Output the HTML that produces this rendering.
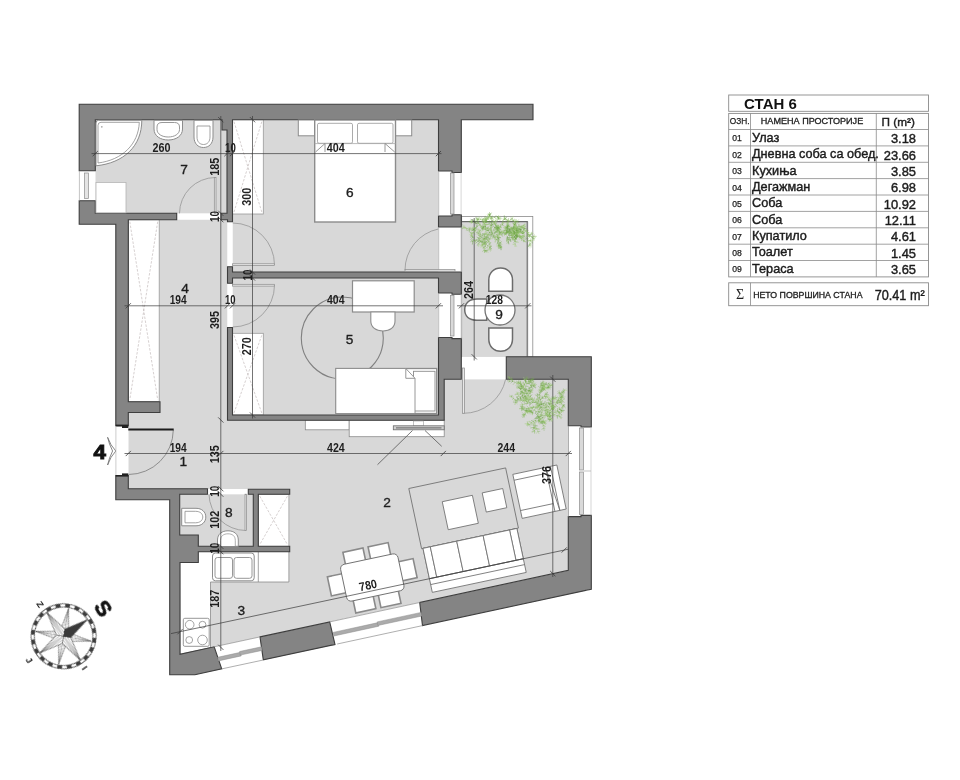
<!DOCTYPE html>
<html><head><meta charset="utf-8"><title>СТАН 6</title>
<style>
html,body{margin:0;padding:0;background:#fff;}
body{width:960px;height:780px;overflow:hidden;font-family:"Liberation Sans",sans-serif;}
svg{display:block;}
</style></head><body>
<svg width="960" height="780" viewBox="0 0 960 780">
<rect width="960" height="780" fill="#fff"/>
<g opacity="0.999">
<g id="floors">
<rect x="95.3" y="119.7" width="131.7" height="100.0" fill="#d8d8d8" stroke="none" stroke-width="0" />
<rect x="232.5" y="119.7" width="206.0" height="152.3" fill="#d8d8d8" stroke="none" stroke-width="0" />
<rect x="232.5" y="278.0" width="206.0" height="137.0" fill="#d8d8d8" stroke="none" stroke-width="0" />
<rect x="461.3" y="216.5" width="71.5" height="140.5" fill="#fff" stroke="#8a8a8a" stroke-width="0.8" />
<rect x="461.5" y="221.6" width="66.9" height="135.2" fill="#d8d8d8" stroke="none" stroke-width="0" />
<line x1="461.5" y1="221.6" x2="527.8" y2="221.6" stroke="#6a6a6a" stroke-width="1.1" />
<line x1="527.2" y1="221.6" x2="527.2" y2="356.8" stroke="#6a6a6a" stroke-width="1.1" />
<line x1="461.6" y1="216.5" x2="461.6" y2="357.0" stroke="#8a8a8a" stroke-width="0.8" />
<polygon points="128.3,219.7 227.5,219.7 227.5,420.0 444.2,420.0 444.2,379.2 568.3,379.2 568.3,570.4 180.0,654.2 180.0,551.0 289.0,551.0 289.0,489.0 128.3,489.0" fill="#d8d8d8" stroke="none" stroke-width="0" />
<rect x="179.7" y="494.2" width="73.6" height="52.3" fill="#d8d8d8" stroke="none" stroke-width="0" />
</g>
<g id="openings">
<rect x="79.2" y="170.8" width="16.1" height="30.0" fill="#fff" stroke="none" stroke-width="0" />
<rect x="176.7" y="213.3" width="45.3" height="6.4" fill="#fff" stroke="none" stroke-width="0" />
<rect x="227.5" y="221.7" width="5.0" height="45.0" fill="#fff" stroke="none" stroke-width="0" />
<rect x="227.5" y="283.3" width="5.0" height="44.2" fill="#fff" stroke="none" stroke-width="0" />
<rect x="438.5" y="171.0" width="22.8" height="45.0" fill="#fff" stroke="none" stroke-width="0" />
<rect x="438.5" y="227.0" width="22.8" height="45.0" fill="#fff" stroke="none" stroke-width="0" />
<rect x="438.5" y="294.0" width="22.8" height="43.5" fill="#fff" stroke="none" stroke-width="0" />
<rect x="462.0" y="356.9" width="44.3" height="22.3" fill="#fff" stroke="none" stroke-width="0" />
<rect x="568.3" y="425.8" width="23.0" height="90.2" fill="#fff" stroke="none" stroke-width="0" />
<rect x="207.5" y="489.2" width="40.8" height="5.0" fill="#fff" stroke="none" stroke-width="0" />
<rect x="115.8" y="425.8" width="12.5" height="49.7" fill="#fff" stroke="none" stroke-width="0" />
<polygon points="214.2,646.8 260.0,636.9 263.3,659.9 221.7,668.9" fill="#fff" stroke="none" stroke-width="0" />
<polygon points="329.7,621.9 419.7,602.5 422.5,625.6 335.0,644.5" fill="#fff" stroke="none" stroke-width="0" />
</g>
<g id="builtins">
<rect x="128.3" y="219.7" width="30.9" height="182.0" fill="#fff" stroke="#9a9a9a" stroke-width="0.8" />
<line x1="129.8" y1="221.7" x2="157.7" y2="399.7" stroke="#c4bcbc" stroke-width="0.7" stroke-dasharray="2.5 1.5"/>
<line x1="157.7" y1="221.7" x2="129.8" y2="399.7" stroke="#c4bcbc" stroke-width="0.7" stroke-dasharray="2.5 1.5"/>
<rect x="232.5" y="119.7" width="30.8" height="94.3" fill="#fff" stroke="#9a9a9a" stroke-width="0.8" />
<line x1="234.0" y1="121.7" x2="261.8" y2="212.0" stroke="#c4bcbc" stroke-width="0.7" stroke-dasharray="2.5 1.5"/>
<line x1="261.8" y1="121.7" x2="234.0" y2="212.0" stroke="#c4bcbc" stroke-width="0.7" stroke-dasharray="2.5 1.5"/>
<rect x="232.5" y="333.3" width="30.8" height="81.7" fill="#fff" stroke="#9a9a9a" stroke-width="0.8" />
<line x1="234.0" y1="335.3" x2="261.8" y2="413.0" stroke="#c4bcbc" stroke-width="0.7" stroke-dasharray="2.5 1.5"/>
<line x1="261.8" y1="335.3" x2="234.0" y2="413.0" stroke="#c4bcbc" stroke-width="0.7" stroke-dasharray="2.5 1.5"/>
<rect x="258.3" y="494.2" width="30.6" height="52.3" fill="#fff" stroke="#9a9a9a" stroke-width="0.8" />
<line x1="259.8" y1="496.2" x2="287.4" y2="544.5" stroke="#c4bcbc" stroke-width="0.7" stroke-dasharray="2.5 1.5"/>
<line x1="287.4" y1="496.2" x2="259.8" y2="544.5" stroke="#c4bcbc" stroke-width="0.7" stroke-dasharray="2.5 1.5"/>
<polygon points="179.7,551.5 288.9,551.5 288.9,582.0 210.5,582.0 210.5,647.6 180.0,654.2" fill="#fff" stroke="#8c8c8c" stroke-width="0.8" />
<line x1="258.3" y1="551.5" x2="258.3" y2="582.0" stroke="#8c8c8c" stroke-width="0.8" />
<rect x="305.3" y="420.0" width="43.9" height="9.8" fill="#fff" stroke="#8c8c8c" stroke-width="0.8" />
<rect x="349.2" y="420.0" width="95.0" height="16.7" fill="#fff" stroke="#8c8c8c" stroke-width="0.8" />
</g>
<g id="walls" fill="#848484" stroke="#3e3e3e" stroke-width="1.1" stroke-linejoin="miter">
<polygon points="79.2,104.2 533.0,104.2 533.0,119.7 461.3,119.7 461.3,172.5 452.0,172.5 452.0,171.0 438.5,171.0 438.5,119.7 232.5,119.7 232.5,221.7 227.5,221.7 227.5,219.7 221.0,219.7 221.0,213.3 227.0,213.3 227.0,130.0 222.0,130.0 222.0,119.7 95.3,119.7 95.3,170.8 79.2,170.8"/>
<polygon points="79.2,200.8 95.3,200.8 95.3,213.3 176.7,213.3 176.7,219.7 128.3,219.7 128.3,401.7 160.0,401.7 160.0,412.5 128.3,412.5 128.3,425.8 115.8,425.8 115.8,224.2 79.2,224.2"/>
<polygon points="227.5,266.7 232.5,266.7 232.5,272.0 461.3,272.0 461.3,294.2 452.0,294.2 452.0,293.0 438.5,293.0 438.5,278.0 232.5,278.0 232.5,283.3 227.5,283.3"/>
<polygon points="438.5,216.0 452.0,216.0 452.0,214.8 461.3,214.8 461.3,227.0 438.5,227.0"/>
<polygon points="227.5,327.5 232.5,327.5 232.5,415.0 438.5,415.0 438.5,337.5 452.0,337.5 452.0,338.6 461.3,338.6 461.3,379.2 444.2,379.2 444.2,420.3 227.5,420.3"/>
<polygon points="506.3,356.7 591.3,356.7 591.3,427.0 581.0,427.0 581.0,425.8 568.3,425.8 568.3,379.2 506.3,379.2"/>
<polygon points="568.3,516.6 581.0,516.6 581.0,515.4 591.3,515.4 591.3,589.2 422.5,625.6 419.7,602.5 568.3,570.4"/>
<polygon points="260.0,636.9 329.7,621.9 335.0,644.5 263.3,659.9"/>
<polygon points="115.8,475.5 128.3,475.5 128.3,488.7 207.5,488.7 207.5,494.2 179.7,494.2 179.7,535.0 198.3,535.0 198.3,546.3 253.3,546.3 253.3,494.2 248.3,494.2 248.3,489.2 289.7,489.2 289.7,494.2 258.3,494.2 258.3,546.3 289.7,546.3 289.7,551.7 198.3,551.7 198.3,562.5 180.0,562.5 180.0,654.2 214.2,646.8 221.7,668.9 194.9,674.7 169.7,674.7 169.7,499.7 115.8,499.7"/>
</g>
<rect x="115.8" y="424.6" width="12.5" height="1.8" fill="#222" stroke="none" stroke-width="0" />
<rect x="122.0" y="426.0" width="6.3" height="2.0" fill="#222" stroke="none" stroke-width="0" />
<rect x="115.8" y="475.0" width="12.5" height="1.6" fill="#222" stroke="none" stroke-width="0" />
<rect x="122.0" y="473.4" width="6.3" height="2.0" fill="#222" stroke="none" stroke-width="0" />
<g id="windetail">
<rect x="84.5" y="173.0" width="4.0" height="25.5" fill="#e4e4e4" stroke="#8c8c8c" stroke-width="0.7" />
<line x1="79.4" y1="170.8" x2="79.4" y2="200.8" stroke="#9a9a9a" stroke-width="0.6" />
<rect x="450.5" y="173.0" width="3.5" height="41.0" fill="#d9d9d9" stroke="#8c8c8c" stroke-width="0.7" />
<line x1="461.1" y1="172.5" x2="461.1" y2="215.0" stroke="#bbb" stroke-width="0.6" />
<line x1="438.7" y1="171.0" x2="438.7" y2="216.0" stroke="#9a9a9a" stroke-width="0.6" />
<rect x="450.5" y="295.5" width="3.5" height="40.5" fill="#d9d9d9" stroke="#8c8c8c" stroke-width="0.7" />
<line x1="461.1" y1="294.2" x2="461.1" y2="338.6" stroke="#bbb" stroke-width="0.6" />
<line x1="438.7" y1="293.0" x2="438.7" y2="337.5" stroke="#9a9a9a" stroke-width="0.6" />
<line x1="438.7" y1="227.0" x2="438.7" y2="272.0" stroke="#9a9a9a" stroke-width="0.6" />
<line x1="461.1" y1="227.0" x2="461.1" y2="272.0" stroke="#9a9a9a" stroke-width="0.6" />
<rect x="579.5" y="428.0" width="4.0" height="42.0" fill="#d9d9d9" stroke="#8c8c8c" stroke-width="0.7" />
<rect x="579.5" y="472.0" width="4.0" height="42.5" fill="#d9d9d9" stroke="#8c8c8c" stroke-width="0.7" />
<line x1="583.5" y1="471.0" x2="591.0" y2="471.0" stroke="#aaa" stroke-width="0.7" />
<line x1="591.0" y1="427.0" x2="591.0" y2="515.4" stroke="#bbb" stroke-width="0.6" />
<line x1="568.5" y1="425.8" x2="568.5" y2="516.6" stroke="#8c8c8c" stroke-width="0.7" />
<polygon points="217.7,657.3 240.6,652.3 241.2,655.9 218.3,660.9" fill="#ababab" stroke="#8a8a8a" stroke-width="0.5" />
<polygon points="239.6,651.5 261.5,646.8 262.1,650.4 240.2,655.1" fill="#ababab" stroke="#8a8a8a" stroke-width="0.5" />
<line x1="221.7" y1="668.9" x2="262.8" y2="660.1" stroke="#8c8c8c" stroke-width="0.7" />
<line x1="214.2" y1="646.8" x2="260.0" y2="636.9" stroke="#8c8c8c" stroke-width="0.7" />
<polygon points="333.2,632.4 378.2,622.6 378.8,626.2 333.8,636.0" fill="#ababab" stroke="#8a8a8a" stroke-width="0.5" />
<polygon points="377.2,621.9 421.2,612.4 421.8,616.0 377.8,625.5" fill="#ababab" stroke="#8a8a8a" stroke-width="0.5" />
<line x1="337.2" y1="644.0" x2="422.5" y2="625.6" stroke="#8c8c8c" stroke-width="0.7" />
<line x1="329.7" y1="621.9" x2="419.7" y2="602.5" stroke="#8c8c8c" stroke-width="0.7" />
</g>
<circle cx="342.3" cy="338" r="41" fill="none" stroke="#808080" stroke-width="1.1"/>
<g id="furn" fill="#fff" stroke="#8c8c8c" stroke-width="1">
<path d="M96,123 Q96,120.3 98.7,120.3 H141.8 C141.8,146 124,163 96,165.8 Z" fill="#fff" stroke="#8c8c8c" stroke-width="1" />
<path d="M98,125.3 Q98,122.3 101,122.3 H139.3 C138.5,144 122.5,160 98,163 Z" fill="#fff" stroke="#8c8c8c" stroke-width="0.8" />
<circle cx="101.8" cy="126.8" r="0.9" fill="#aaa" stroke="none"/>
<path d="M154,120.3 H182.5 V129 C182.5,136 176,140 168.2,140 C160.5,140 154,136 154,129 Z" fill="#fff" stroke="#8c8c8c" stroke-width="1" />
<path d="M157,127 Q157,122.5 162,122.5 H174.5 Q179.5,122.5 179.5,127 V129.5 C179.5,134 174.5,137 168.2,137 C162,137 157,134 157,129.5 Z" fill="#fff" stroke="#8c8c8c" stroke-width="0.9" />
<path d="M194,120.3 H213 V137 C213,143.5 209,147.5 203.5,147.5 C198,147.5 194,143.5 194,137 Z" fill="#fff" stroke="#8c8c8c" stroke-width="1" />
<path d="M197,126 H210 V137 C210,141.5 207.5,144.5 203.5,144.5 C199.5,144.5 197,141.5 197,137 Z" fill="#fff" stroke="#8c8c8c" stroke-width="0.8" />
<rect x="96.0" y="182.5" width="30.0" height="30.3" fill="#fff" stroke="#b5b5b5" stroke-width="0.8" />
<rect x="298.3" y="120.0" width="16.4" height="15.8" fill="#fff" stroke="#8c8c8c" stroke-width="1" />
<rect x="395.5" y="120.0" width="16.2" height="15.8" fill="#fff" stroke="#8c8c8c" stroke-width="1" />
<rect x="314.7" y="120.0" width="80.8" height="102.0" fill="#fff" stroke="#8c8c8c" stroke-width="1.4" />
<rect x="317.5" y="123.3" width="35.0" height="20.0" fill="#fff" stroke="#a2a2a2" stroke-width="0.9" rx="1.5"/>
<rect x="357.5" y="123.3" width="35.5" height="20.0" fill="#fff" stroke="#a2a2a2" stroke-width="0.9" rx="1.5"/>
<line x1="314.7" y1="143.6" x2="395.5" y2="143.6" stroke="#a8a8a8" stroke-width="0.8" />
<path d="M315.5,152 L325,143.5 V152" fill="none" stroke="#8c8c8c" stroke-width="0.9" />
<path d="M394.7,152 L385,143.5 V152" fill="none" stroke="#8c8c8c" stroke-width="0.9" />
<rect x="352.5" y="280.8" width="61.7" height="31.2" fill="#fff" stroke="#8c8c8c" stroke-width="1.2" />
<path d="M370.8,312 V321 C370.8,327.5 376,331 383,331 C390,331 395,327.5 395,321 V312 Z" fill="#fff" stroke="#8c8c8c" stroke-width="1.1" />
<rect x="335.8" y="368.5" width="100.9" height="45.0" fill="#fff" stroke="#8c8c8c" stroke-width="1.3" />
<rect x="413.5" y="371.3" width="21.5" height="39.7" fill="#fff" stroke="#8c8c8c" stroke-width="0.9" />
<path d="M335.8,368.5 H405.8 L415,378.3 V413.5 H335.8 Z" fill="#fff" stroke="#8c8c8c" stroke-width="0.9" />
<path d="M405.8,368.8 V378.3 H415" fill="none" stroke="#8c8c8c" stroke-width="0.9" />
<path d="M488.8,291.3 V280 C488.8,272.5 494,268 500.6,268 C507.2,268 512.5,272.5 512.5,280 V291.3 Z" fill="#fff" stroke="#6c6c6c" stroke-width="1.5" />
<path d="M486.7,299 H477 C469,299 464.7,303.5 464.7,309.6 C464.7,316 469,320.3 477,320.3 H486.7 Z" fill="#fff" stroke="#6c6c6c" stroke-width="1.5" />
<path d="M488.8,328 V339 C488.8,346.5 494,351.3 500.6,351.3 C507.2,351.3 512.5,346.5 512.5,339 V328 Z" fill="#fff" stroke="#6c6c6c" stroke-width="1.5" />
<circle cx="500" cy="310" r="15" stroke="#747474" stroke-width="1.3"/>
<path d="M181.7,508.3 H196 C202,508.3 205.8,512 205.8,517 C205.8,522 202,525.8 196,525.8 H181.7 Z" fill="#fff" stroke="#8c8c8c" stroke-width="1" />
<path d="M185,511.3 H195.5 C200,511.3 202.8,513.7 202.8,517 C202.8,520.3 200,522.8 195.5,522.8 H185 Z" fill="#fff" stroke="#8c8c8c" stroke-width="0.8" />
<path d="M217.5,546.3 V540 C217.5,534 222,530.8 228,530.8 C234,530.8 238.3,534 238.3,540 V546.3 Z" fill="#fff" stroke="#8c8c8c" stroke-width="1" />
<path d="M220.5,546 V540.5 C220.5,536 223.5,533.8 228,533.8 C232.5,533.8 235.3,536 235.3,540.5 V546" fill="#fff" stroke="#8c8c8c" stroke-width="0.7" />
<rect x="212.5" y="553.0" width="41.7" height="27.8" fill="#fff" stroke="#8c8c8c" stroke-width="1" rx="3"/>
<rect x="215.0" y="557.5" width="17.5" height="20.8" fill="#fff" stroke="#8c8c8c" stroke-width="0.9" rx="2.5"/>
<rect x="234.0" y="557.5" width="18.0" height="20.8" fill="#fff" stroke="#8c8c8c" stroke-width="0.9" rx="2.5"/>
<rect x="183.3" y="618.3" width="25.9" height="28.0" fill="#fff" stroke="#8c8c8c" stroke-width="0.9" rx="1.5"/>
<circle cx="189.7" cy="624.7" r="4.3" stroke-width="0.8"/><circle cx="202.5" cy="624.7" r="3.4" stroke-width="0.8"/><circle cx="189.2" cy="640" r="3.4" stroke-width="0.8"/><circle cx="202.5" cy="640" r="4.8" stroke-width="0.8"/>
</g>
<rect x="413.5" y="421.0" width="10.0" height="5.0" fill="#fff" stroke="#9a9a9a" stroke-width="0.6" />
<rect x="393.3" y="425.8" width="50.9" height="4.0" fill="#cfcfcf" stroke="#6a6a6a" stroke-width="0.8" />
<line x1="396.0" y1="427.8" x2="441.5" y2="427.8" stroke="#777" stroke-width="1.2" />
<line x1="412.5" y1="430.5" x2="377.5" y2="464.7" stroke="#555" stroke-width="0.8" />
<line x1="425.0" y1="430.5" x2="441.7" y2="446.3" stroke="#555" stroke-width="0.8" />
<g transform="translate(408.8,488.5) rotate(-12.0)"><rect x="0" y="0" width="99" height="61.5" fill="none" stroke="#6e6e6e" stroke-width="0.8"/></g>
<g transform="translate(460.3,512.5) rotate(-12.0)"><rect x="-15.4" y="-14.3" width="30.8" height="28.6" fill="#fff" stroke="#6e6e6e" stroke-width="0.8"/></g>
<g transform="translate(494.5,500.3) rotate(-12.0)"><rect x="-10.5" y="-9.8" width="21" height="19.6" fill="#fff" stroke="#6e6e6e" stroke-width="0.8"/></g>
<g transform="translate(474.6,560.4) rotate(-12.0)" fill="#fff" stroke="#6e6e6e" stroke-width="0.8"><rect x="-48" y="-22.5" width="96" height="45"/><rect x="-48" y="-22.5" width="7.5" height="31"/><rect x="40.5" y="-22.5" width="7.5" height="31"/><rect x="-40.5" y="-22.5" width="27" height="31"/><rect x="-13.5" y="-22.5" width="27" height="31"/><rect x="13.5" y="-22.5" width="27" height="31"/><line x1="-48" y1="8.5" x2="48" y2="8.5"/><line x1="-48" y1="14.5" x2="48" y2="14.5"/></g>
<g transform="translate(539.5,491.7) rotate(-12.0)" fill="#fff" stroke="#6e6e6e" stroke-width="0.8"><rect x="-22.5" y="-22.5" width="45" height="45"/><line x1="-22.5" y1="-16.5" x2="11" y2="-16.5"/><line x1="-22.5" y1="14.5" x2="11" y2="14.5"/><line x1="11" y1="-22.5" x2="11" y2="22.5"/><line x1="16" y1="-22.5" x2="16" y2="22.5"/><line x1="11" y1="-22.5" x2="16" y2="22.5"/></g>
<g transform="translate(372.3,577.5) rotate(-12.0)" fill="#fff" stroke="#6e6e6e"><g stroke-width="1.6" stroke="#8a8a8a"><rect x="-23.5" y="-30.8" width="20.5" height="16"/><rect x="2.2" y="-30.8" width="20.5" height="16"/><rect x="-23.5" y="14" width="20.5" height="17.3"/><rect x="2.2" y="14" width="20.5" height="17.3"/><rect x="-43.8" y="-10" width="18" height="19.5"/><rect x="25.8" y="-10" width="18" height="19.5"/></g><rect x="-29.3" y="-18.8" width="58.6" height="37.6" rx="4.5" stroke-width="0.9"/></g>
<g id="doors" fill="none" stroke="#8a8a8a" stroke-width="0.8">
<rect x="214.3" y="177.5" width="1.7" height="35.8" fill="#e8e8e8" stroke="#8a8a8a" stroke-width="0.7" />
<path d="M215.2,177.5 A36,36 0 0 0 179.5,213.3" fill="none" stroke="#959595" stroke-width="0.8" />
<rect x="232.5" y="263.8" width="41.8" height="1.8" fill="#e8e8e8" stroke="#8a8a8a" stroke-width="0.7" />
<path d="M232.8,223 A42,42 0 0 1 274.5,264.8" fill="none" stroke="#959595" stroke-width="0.8" />
<rect x="232.5" y="284.3" width="41.8" height="1.8" fill="#e8e8e8" stroke="#8a8a8a" stroke-width="0.7" />
<path d="M274.5,285.2 A42,42 0 0 1 232.8,327" fill="none" stroke="#959595" stroke-width="0.8" />
<rect x="405.0" y="269.6" width="50.0" height="1.6" fill="#e8e8e8" stroke="#8a8a8a" stroke-width="0.7" />
<path d="M405,270 A42,42 0 0 1 438.3,229" fill="none" stroke="#959595" stroke-width="0.8" />
<rect x="462.6" y="368.0" width="1.8" height="45.3" fill="#e8e8e8" stroke="#8a8a8a" stroke-width="0.7" />
<path d="M463.5,413.3 A43,43 0 0 0 505.6,379.4" fill="none" stroke="#959595" stroke-width="0.8" />
<rect x="245.0" y="494.2" width="1.6" height="36.3" fill="#e8e8e8" stroke="#8a8a8a" stroke-width="0.7" />
<path d="M245.8,530.5 A37,37 0 0 1 209,494.4" fill="none" stroke="#959595" stroke-width="0.8" />
<path d="M173.3,430 A45,45 0 0 1 128.5,474.5" fill="none" stroke="#7a7a7a" stroke-width="0.8" />
<rect x="128.3" y="428.5" width="45.4" height="2.0" fill="#1c1c1c" stroke="none" stroke-width="0" />
</g>
<path d="M107.6,437.3 Q110.5,445.5 115.8,451 Q110.5,456.5 107.6,465 Q109,458 112.6,451 Q109,444 107.6,437.3 Z" fill="#fff" stroke="#6a6a6a" stroke-width="0.8" />
<line x1="115.9" y1="426.0" x2="115.9" y2="475.0" stroke="#aaa" stroke-width="0.6" />
<g id="dims" stroke="#3a3a3a" stroke-width="0.7" fill="none">
<line x1="91.5" y1="153.6" x2="441.5" y2="153.6" stroke="#3a3a3a" stroke-width="0.7" />
<line x1="92.7" y1="156.2" x2="97.9" y2="151.0" stroke="#3a3a3a" stroke-width="0.8" />
<line x1="224.4" y1="156.2" x2="229.6" y2="151.0" stroke="#3a3a3a" stroke-width="0.8" />
<line x1="229.9" y1="156.2" x2="235.1" y2="151.0" stroke="#3a3a3a" stroke-width="0.8" />
<line x1="435.8" y1="156.2" x2="441.0" y2="151.0" stroke="#3a3a3a" stroke-width="0.8" />
<line x1="124.5" y1="305.8" x2="443.0" y2="305.8" stroke="#3a3a3a" stroke-width="0.7" />
<line x1="125.7" y1="308.4" x2="130.9" y2="303.2" stroke="#3a3a3a" stroke-width="0.8" />
<line x1="224.9" y1="308.4" x2="230.1" y2="303.2" stroke="#3a3a3a" stroke-width="0.8" />
<line x1="229.9" y1="308.4" x2="235.1" y2="303.2" stroke="#3a3a3a" stroke-width="0.8" />
<line x1="435.8" y1="308.4" x2="441.0" y2="303.2" stroke="#3a3a3a" stroke-width="0.8" />
<line x1="457.0" y1="305.8" x2="531.5" y2="305.8" stroke="#3a3a3a" stroke-width="0.7" />
<line x1="458.9" y1="308.4" x2="464.1" y2="303.2" stroke="#3a3a3a" stroke-width="0.8" />
<line x1="525.2" y1="308.4" x2="530.4" y2="303.2" stroke="#3a3a3a" stroke-width="0.8" />
<line x1="124.5" y1="453.5" x2="572.0" y2="453.5" stroke="#3a3a3a" stroke-width="0.7" />
<line x1="125.7" y1="456.1" x2="130.9" y2="450.9" stroke="#3a3a3a" stroke-width="0.8" />
<line x1="218.2" y1="456.1" x2="223.4" y2="450.9" stroke="#3a3a3a" stroke-width="0.8" />
<line x1="440.7" y1="456.1" x2="445.9" y2="450.9" stroke="#3a3a3a" stroke-width="0.8" />
<line x1="565.7" y1="456.1" x2="570.9" y2="450.9" stroke="#3a3a3a" stroke-width="0.8" />
<line x1="220.8" y1="116.0" x2="220.8" y2="651.0" stroke="#3a3a3a" stroke-width="0.7" />
<line x1="218.2" y1="117.1" x2="223.4" y2="122.3" stroke="#3a3a3a" stroke-width="0.8" />
<line x1="218.2" y1="210.7" x2="223.4" y2="215.9" stroke="#3a3a3a" stroke-width="0.8" />
<line x1="218.2" y1="217.1" x2="223.4" y2="222.3" stroke="#3a3a3a" stroke-width="0.8" />
<line x1="218.2" y1="417.4" x2="223.4" y2="422.6" stroke="#3a3a3a" stroke-width="0.8" />
<line x1="218.2" y1="486.1" x2="223.4" y2="491.3" stroke="#3a3a3a" stroke-width="0.8" />
<line x1="218.2" y1="491.6" x2="223.4" y2="496.8" stroke="#3a3a3a" stroke-width="0.8" />
<line x1="218.2" y1="543.7" x2="223.4" y2="548.9" stroke="#3a3a3a" stroke-width="0.8" />
<line x1="218.2" y1="549.1" x2="223.4" y2="554.3" stroke="#3a3a3a" stroke-width="0.8" />
<line x1="218.2" y1="644.7" x2="223.4" y2="649.9" stroke="#3a3a3a" stroke-width="0.8" />
<line x1="252.5" y1="116.0" x2="252.5" y2="418.5" stroke="#3a3a3a" stroke-width="0.7" />
<line x1="249.9" y1="117.1" x2="255.1" y2="122.3" stroke="#3a3a3a" stroke-width="0.8" />
<line x1="249.9" y1="269.4" x2="255.1" y2="274.6" stroke="#3a3a3a" stroke-width="0.8" />
<line x1="249.9" y1="275.4" x2="255.1" y2="280.6" stroke="#3a3a3a" stroke-width="0.8" />
<line x1="249.9" y1="412.4" x2="255.1" y2="417.6" stroke="#3a3a3a" stroke-width="0.8" />
<line x1="474.2" y1="218.0" x2="474.2" y2="360.5" stroke="#3a3a3a" stroke-width="0.7" />
<line x1="471.6" y1="219.1" x2="476.8" y2="224.3" stroke="#3a3a3a" stroke-width="0.8" />
<line x1="471.6" y1="354.2" x2="476.8" y2="359.4" stroke="#3a3a3a" stroke-width="0.8" />
<line x1="552.8" y1="375.0" x2="552.8" y2="577.0" stroke="#3a3a3a" stroke-width="0.7" />
<line x1="550.2" y1="376.6" x2="555.4" y2="381.8" stroke="#3a3a3a" stroke-width="0.8" />
<line x1="550.2" y1="571.0" x2="555.4" y2="576.2" stroke="#3a3a3a" stroke-width="0.8" />
<line x1="171.0" y1="633.6" x2="568.3" y2="549.2" stroke="#3a3a3a" stroke-width="0.7" />
<line x1="177.4" y1="634.3" x2="182.6" y2="629.1" stroke="#3a3a3a" stroke-width="0.8" />
<line x1="561.6" y1="552.6" x2="566.8" y2="547.4" stroke="#3a3a3a" stroke-width="0.8" />
</g>
<text x="152.5" y="151.7" font-family="Liberation Sans, sans-serif" font-size="12.2" font-weight="bold" fill="#1e1e1e" textLength="18.0" lengthAdjust="spacingAndGlyphs">260</text>
<text x="225.0" y="151.7" font-family="Liberation Sans, sans-serif" font-size="12.2" font-weight="bold" fill="#1e1e1e" textLength="10.8" lengthAdjust="spacingAndGlyphs">10</text>
<text x="326.7" y="151.7" font-family="Liberation Sans, sans-serif" font-size="12.2" font-weight="bold" fill="#1e1e1e" textLength="18.0" lengthAdjust="spacingAndGlyphs">404</text>
<text x="169.7" y="304.0" font-family="Liberation Sans, sans-serif" font-size="12.2" font-weight="bold" fill="#1e1e1e" textLength="17.0" lengthAdjust="spacingAndGlyphs">194</text>
<text x="225.0" y="304.0" font-family="Liberation Sans, sans-serif" font-size="12.2" font-weight="bold" fill="#1e1e1e" textLength="10.6" lengthAdjust="spacingAndGlyphs">10</text>
<text x="327.0" y="304.0" font-family="Liberation Sans, sans-serif" font-size="12.2" font-weight="bold" fill="#1e1e1e" textLength="17.5" lengthAdjust="spacingAndGlyphs">404</text>
<text x="485.8" y="304.0" font-family="Liberation Sans, sans-serif" font-size="12.2" font-weight="bold" fill="#1e1e1e" textLength="17.2" lengthAdjust="spacingAndGlyphs">128</text>
<text x="169.7" y="451.7" font-family="Liberation Sans, sans-serif" font-size="12.2" font-weight="bold" fill="#1e1e1e" textLength="17.0" lengthAdjust="spacingAndGlyphs">194</text>
<text x="327.0" y="451.7" font-family="Liberation Sans, sans-serif" font-size="12.2" font-weight="bold" fill="#1e1e1e" textLength="17.7" lengthAdjust="spacingAndGlyphs">424</text>
<text x="497.5" y="452.0" font-family="Liberation Sans, sans-serif" font-size="12.2" font-weight="bold" fill="#1e1e1e" textLength="17.5" lengthAdjust="spacingAndGlyphs">244</text>
<text transform="translate(219.2,175.7) rotate(-90)" font-family="Liberation Sans, sans-serif" font-size="12.2" font-weight="bold" fill="#1e1e1e" textLength="18.0" lengthAdjust="spacingAndGlyphs">185</text>
<text transform="translate(250.9,205.7) rotate(-90)" font-family="Liberation Sans, sans-serif" font-size="12.2" font-weight="bold" fill="#1e1e1e" textLength="18.0" lengthAdjust="spacingAndGlyphs">300</text>
<text transform="translate(218.7,222.0) rotate(-90)" font-family="Liberation Sans, sans-serif" font-size="12.2" font-weight="bold" fill="#1e1e1e" textLength="11.0" lengthAdjust="spacingAndGlyphs">10</text>
<text transform="translate(219.2,329.0) rotate(-90)" font-family="Liberation Sans, sans-serif" font-size="12.2" font-weight="bold" fill="#1e1e1e" textLength="18.0" lengthAdjust="spacingAndGlyphs">395</text>
<text transform="translate(251.5,280.5) rotate(-90)" font-family="Liberation Sans, sans-serif" font-size="12.2" font-weight="bold" fill="#1e1e1e" textLength="11.0" lengthAdjust="spacingAndGlyphs">10</text>
<text transform="translate(472.5,299.0) rotate(-90)" font-family="Liberation Sans, sans-serif" font-size="12.2" font-weight="bold" fill="#1e1e1e" textLength="18.0" lengthAdjust="spacingAndGlyphs">264</text>
<text transform="translate(251.2,355.3) rotate(-90)" font-family="Liberation Sans, sans-serif" font-size="12.2" font-weight="bold" fill="#1e1e1e" textLength="18.0" lengthAdjust="spacingAndGlyphs">270</text>
<text transform="translate(218.9,463.2) rotate(-90)" font-family="Liberation Sans, sans-serif" font-size="12.2" font-weight="bold" fill="#1e1e1e" textLength="18.0" lengthAdjust="spacingAndGlyphs">135</text>
<text transform="translate(550.9,484.0) rotate(-90)" font-family="Liberation Sans, sans-serif" font-size="12.2" font-weight="bold" fill="#1e1e1e" textLength="18.0" lengthAdjust="spacingAndGlyphs">376</text>
<text transform="translate(218.9,496.8) rotate(-90)" font-family="Liberation Sans, sans-serif" font-size="12.2" font-weight="bold" fill="#1e1e1e" textLength="11.0" lengthAdjust="spacingAndGlyphs">10</text>
<text transform="translate(218.9,528.7) rotate(-90)" font-family="Liberation Sans, sans-serif" font-size="12.2" font-weight="bold" fill="#1e1e1e" textLength="18.0" lengthAdjust="spacingAndGlyphs">102</text>
<text transform="translate(218.9,553.8) rotate(-90)" font-family="Liberation Sans, sans-serif" font-size="12.2" font-weight="bold" fill="#1e1e1e" textLength="11.0" lengthAdjust="spacingAndGlyphs">10</text>
<text transform="translate(218.9,607.7) rotate(-90)" font-family="Liberation Sans, sans-serif" font-size="12.2" font-weight="bold" fill="#1e1e1e" textLength="18.0" lengthAdjust="spacingAndGlyphs">187</text>
<text transform="translate(368,585.3) rotate(-12)" x="-9" y="4.2" font-family="Liberation Sans, sans-serif" font-size="12.2" font-weight="bold" fill="#1e1e1e" textLength="18" lengthAdjust="spacingAndGlyphs">780</text>
<text x="184.0" y="173.9" font-family="Liberation Sans, sans-serif" font-size="13.7" fill="#1e1e1e" stroke="#1e1e1e" stroke-width="0.35" text-anchor="middle">7</text>
<text x="349.7" y="197.4" font-family="Liberation Sans, sans-serif" font-size="13.7" fill="#1e1e1e" stroke="#1e1e1e" stroke-width="0.35" text-anchor="middle">6</text>
<text x="185.0" y="293.2" font-family="Liberation Sans, sans-serif" font-size="13.7" fill="#1e1e1e" stroke="#1e1e1e" stroke-width="0.35" text-anchor="middle">4</text>
<text x="349.5" y="344.1" font-family="Liberation Sans, sans-serif" font-size="13.7" fill="#1e1e1e" stroke="#1e1e1e" stroke-width="0.35" text-anchor="middle">5</text>
<text x="499.0" y="318.6" font-family="Liberation Sans, sans-serif" font-size="13.7" fill="#1e1e1e" stroke="#1e1e1e" stroke-width="0.35" text-anchor="middle">9</text>
<text x="183.3" y="466.2" font-family="Liberation Sans, sans-serif" font-size="13.7" fill="#1e1e1e" stroke="#1e1e1e" stroke-width="0.35" text-anchor="middle">1</text>
<text x="387.0" y="506.6" font-family="Liberation Sans, sans-serif" font-size="13.7" fill="#1e1e1e" stroke="#1e1e1e" stroke-width="0.35" text-anchor="middle">2</text>
<text x="228.7" y="516.6" font-family="Liberation Sans, sans-serif" font-size="13.7" fill="#1e1e1e" stroke="#1e1e1e" stroke-width="0.35" text-anchor="middle">8</text>
<text x="241.3" y="614.6" font-family="Liberation Sans, sans-serif" font-size="13.7" fill="#1e1e1e" stroke="#1e1e1e" stroke-width="0.35" text-anchor="middle">3</text>
<text x="93.6" y="459.2" font-family="Liberation Sans, sans-serif" font-size="20" font-weight="bold" fill="#111" stroke="#111" stroke-width="1.0" textLength="12.4" lengthAdjust="spacingAndGlyphs">4</text>
<g id="table">
<rect x="728.7" y="95.0" width="199.8" height="16.3" fill="#fff" stroke="#8a8a8a" stroke-width="0.9" />
<rect x="728.7" y="113.4" width="199.8" height="163.5" fill="#fff" stroke="#8a8a8a" stroke-width="0.9" />
<line x1="728.7" y1="129.5" x2="928.5" y2="129.5" stroke="#8a8a8a" stroke-width="0.8" />
<line x1="728.7" y1="145.9" x2="928.5" y2="145.9" stroke="#8a8a8a" stroke-width="0.8" />
<line x1="728.7" y1="162.3" x2="928.5" y2="162.3" stroke="#8a8a8a" stroke-width="0.8" />
<line x1="728.7" y1="178.6" x2="928.5" y2="178.6" stroke="#8a8a8a" stroke-width="0.8" />
<line x1="728.7" y1="195.0" x2="928.5" y2="195.0" stroke="#8a8a8a" stroke-width="0.8" />
<line x1="728.7" y1="211.4" x2="928.5" y2="211.4" stroke="#8a8a8a" stroke-width="0.8" />
<line x1="728.7" y1="227.8" x2="928.5" y2="227.8" stroke="#8a8a8a" stroke-width="0.8" />
<line x1="728.7" y1="244.2" x2="928.5" y2="244.2" stroke="#8a8a8a" stroke-width="0.8" />
<line x1="728.7" y1="260.5" x2="928.5" y2="260.5" stroke="#8a8a8a" stroke-width="0.8" />
<line x1="750.5" y1="113.4" x2="750.5" y2="276.9" stroke="#8a8a8a" stroke-width="0.8" />
<line x1="876.3" y1="113.4" x2="876.3" y2="276.9" stroke="#8a8a8a" stroke-width="0.8" />
<rect x="728.7" y="282.8" width="199.8" height="22.9" fill="#fff" stroke="#8a8a8a" stroke-width="0.9" />
<line x1="750.5" y1="282.8" x2="750.5" y2="305.7" stroke="#8a8a8a" stroke-width="0.8" />
<text x="744" y="108.8" font-family="Liberation Sans, sans-serif" font-size="14.2" font-weight="bold" fill="#111" textLength="52.8" lengthAdjust="spacingAndGlyphs">СТАН 6</text>
<text x="729.8" y="124.4" font-family="Liberation Sans, sans-serif" font-size="8.6" fill="#222" stroke="#222" stroke-width="0.25" textLength="19.8" lengthAdjust="spacingAndGlyphs">ОЗН.</text>
<text x="760.8" y="124.4" font-family="Liberation Sans, sans-serif" font-size="8.6" fill="#222" stroke="#222" stroke-width="0.3" textLength="102.4" lengthAdjust="spacingAndGlyphs">НАМЕНА ПРОСТОРИЈЕ</text>
<text x="881.5" y="126.2" font-family="Liberation Sans, sans-serif" font-size="11.5" fill="#222" stroke="#222" stroke-width="0.4" textLength="33.3" lengthAdjust="spacingAndGlyphs">П (m²)</text>
<text x="732.2" y="141.4" font-family="Liberation Sans, sans-serif" font-size="8.6" fill="#222" stroke="#222" stroke-width="0.25">01</text>
<text x="752" y="141.7" font-family="Liberation Sans, sans-serif" font-size="12.7" fill="#1c1c1c" stroke="#1c1c1c" stroke-width="0.42">Улаз</text>
<text x="916" y="143.1" font-family="Liberation Sans, sans-serif" font-size="12.9" fill="#1c1c1c" stroke="#1c1c1c" stroke-width="0.42" text-anchor="end">3.18</text>
<text x="732.2" y="157.8" font-family="Liberation Sans, sans-serif" font-size="8.6" fill="#222" stroke="#222" stroke-width="0.25">02</text>
<text x="752" y="158.1" font-family="Liberation Sans, sans-serif" font-size="12.7" fill="#1c1c1c" stroke="#1c1c1c" stroke-width="0.42">Дневна соба са обед.</text>
<text x="916" y="159.5" font-family="Liberation Sans, sans-serif" font-size="12.9" fill="#1c1c1c" stroke="#1c1c1c" stroke-width="0.42" text-anchor="end">23.66</text>
<text x="732.2" y="174.2" font-family="Liberation Sans, sans-serif" font-size="8.6" fill="#222" stroke="#222" stroke-width="0.25">03</text>
<text x="752" y="174.5" font-family="Liberation Sans, sans-serif" font-size="12.7" fill="#1c1c1c" stroke="#1c1c1c" stroke-width="0.42">Кухиња</text>
<text x="916" y="175.9" font-family="Liberation Sans, sans-serif" font-size="12.9" fill="#1c1c1c" stroke="#1c1c1c" stroke-width="0.42" text-anchor="end">3.85</text>
<text x="732.2" y="190.5" font-family="Liberation Sans, sans-serif" font-size="8.6" fill="#222" stroke="#222" stroke-width="0.25">04</text>
<text x="752" y="190.8" font-family="Liberation Sans, sans-serif" font-size="12.7" fill="#1c1c1c" stroke="#1c1c1c" stroke-width="0.42">Дегажман</text>
<text x="916" y="192.2" font-family="Liberation Sans, sans-serif" font-size="12.9" fill="#1c1c1c" stroke="#1c1c1c" stroke-width="0.42" text-anchor="end">6.98</text>
<text x="732.2" y="206.9" font-family="Liberation Sans, sans-serif" font-size="8.6" fill="#222" stroke="#222" stroke-width="0.25">05</text>
<text x="752" y="207.2" font-family="Liberation Sans, sans-serif" font-size="12.7" fill="#1c1c1c" stroke="#1c1c1c" stroke-width="0.42">Соба</text>
<text x="916" y="208.6" font-family="Liberation Sans, sans-serif" font-size="12.9" fill="#1c1c1c" stroke="#1c1c1c" stroke-width="0.42" text-anchor="end">10.92</text>
<text x="732.2" y="223.3" font-family="Liberation Sans, sans-serif" font-size="8.6" fill="#222" stroke="#222" stroke-width="0.25">06</text>
<text x="752" y="223.6" font-family="Liberation Sans, sans-serif" font-size="12.7" fill="#1c1c1c" stroke="#1c1c1c" stroke-width="0.42">Соба</text>
<text x="916" y="225.0" font-family="Liberation Sans, sans-serif" font-size="12.9" fill="#1c1c1c" stroke="#1c1c1c" stroke-width="0.42" text-anchor="end">12.11</text>
<text x="732.2" y="239.7" font-family="Liberation Sans, sans-serif" font-size="8.6" fill="#222" stroke="#222" stroke-width="0.25">07</text>
<text x="752" y="240.0" font-family="Liberation Sans, sans-serif" font-size="12.7" fill="#1c1c1c" stroke="#1c1c1c" stroke-width="0.42">Купатило</text>
<text x="916" y="241.4" font-family="Liberation Sans, sans-serif" font-size="12.9" fill="#1c1c1c" stroke="#1c1c1c" stroke-width="0.42" text-anchor="end">4.61</text>
<text x="732.2" y="256.1" font-family="Liberation Sans, sans-serif" font-size="8.6" fill="#222" stroke="#222" stroke-width="0.25">08</text>
<text x="752" y="256.4" font-family="Liberation Sans, sans-serif" font-size="12.7" fill="#1c1c1c" stroke="#1c1c1c" stroke-width="0.42">Тоалет</text>
<text x="916" y="257.8" font-family="Liberation Sans, sans-serif" font-size="12.9" fill="#1c1c1c" stroke="#1c1c1c" stroke-width="0.42" text-anchor="end">1.45</text>
<text x="732.2" y="272.4" font-family="Liberation Sans, sans-serif" font-size="8.6" fill="#222" stroke="#222" stroke-width="0.25">09</text>
<text x="752" y="272.7" font-family="Liberation Sans, sans-serif" font-size="12.7" fill="#1c1c1c" stroke="#1c1c1c" stroke-width="0.42">Тераса</text>
<text x="916" y="274.1" font-family="Liberation Sans, sans-serif" font-size="12.9" fill="#1c1c1c" stroke="#1c1c1c" stroke-width="0.42" text-anchor="end">3.65</text>
<text x="740" y="299.3" font-family="Liberation Serif, serif" font-size="14" fill="#222" text-anchor="middle">Σ</text>
<text x="753.2" y="297.7" font-family="Liberation Sans, sans-serif" font-size="8.6" fill="#222" stroke="#222" stroke-width="0.3" textLength="109.3" lengthAdjust="spacingAndGlyphs">НЕТО ПОВРШИНА СТАНА</text>
<text x="874.7" y="300" font-family="Liberation Sans, sans-serif" font-size="14" fill="#1c1c1c" stroke="#1c1c1c" stroke-width="0.42" textLength="50" lengthAdjust="spacingAndGlyphs">70.41 m²</text>
</g>
<g id="compass" transform="translate(63.6,636.3) rotate(55)">
<circle r="32.6" fill="#fff" stroke="#333" stroke-width="0.8"/>
<polygon points="32.58,1.14 32.00,6.22 28.76,5.59 29.28,1.02" fill="#3c3c3c"/>
<polygon points="30.63,11.15 28.51,15.80 25.63,14.20 27.53,10.02" fill="#3c3c3c"/>
<polygon points="25.69,20.07 22.23,23.84 19.98,21.43 23.09,18.04" fill="#3c3c3c"/>
<polygon points="18.23,27.03 13.78,29.55 12.38,26.55 16.38,24.29" fill="#3c3c3c"/>
<polygon points="8.99,31.34 3.97,32.36 3.57,29.08 8.08,28.16" fill="#3c3c3c"/>
<polygon points="-1.14,32.58 -6.22,32.00 -5.59,28.76 -1.02,29.28" fill="#3c3c3c"/>
<polygon points="-11.15,30.63 -15.80,28.51 -14.20,25.63 -10.02,27.53" fill="#3c3c3c"/>
<polygon points="-20.07,25.69 -23.84,22.23 -21.43,19.98 -18.04,23.09" fill="#3c3c3c"/>
<polygon points="-27.03,18.23 -29.55,13.78 -26.55,12.38 -24.29,16.38" fill="#3c3c3c"/>
<polygon points="-31.34,8.99 -32.36,3.97 -29.08,3.57 -28.16,8.08" fill="#3c3c3c"/>
<polygon points="-32.58,-1.14 -32.00,-6.22 -28.76,-5.59 -29.28,-1.02" fill="#3c3c3c"/>
<polygon points="-30.63,-11.15 -28.51,-15.80 -25.63,-14.20 -27.53,-10.02" fill="#3c3c3c"/>
<polygon points="-25.69,-20.07 -22.23,-23.84 -19.98,-21.43 -23.09,-18.04" fill="#3c3c3c"/>
<polygon points="-18.23,-27.03 -13.78,-29.55 -12.38,-26.55 -16.38,-24.29" fill="#3c3c3c"/>
<polygon points="-8.99,-31.34 -3.97,-32.36 -3.57,-29.08 -8.08,-28.16" fill="#3c3c3c"/>
<polygon points="1.14,-32.58 6.22,-32.00 5.59,-28.76 1.02,-29.28" fill="#3c3c3c"/>
<polygon points="11.15,-30.63 15.80,-28.51 14.20,-25.63 10.02,-27.53" fill="#3c3c3c"/>
<polygon points="20.07,-25.69 23.84,-22.23 21.43,-19.98 18.04,-23.09" fill="#3c3c3c"/>
<polygon points="27.03,-18.23 29.55,-13.78 26.55,-12.38 24.29,-16.38" fill="#3c3c3c"/>
<polygon points="31.34,-8.99 32.36,-3.97 29.08,-3.57 28.16,-8.08" fill="#3c3c3c"/>
<circle r="29.3" fill="none" stroke="#333" stroke-width="0.8"/>
<polygon points="0.00,-6.20 19.94,-19.94 6.20,0.00 0,0" fill="#fff" stroke="#2e2e2e" stroke-width="0.55" stroke-linejoin="round"/>
<line x1="0" y1="0" x2="19.94" y2="-19.94" stroke="#333" stroke-width="0.45"/>
<line x1="0.00" y1="-3.10" x2="19.94" y2="-19.94" stroke="#555" stroke-width="0.35"/>
<line x1="3.10" y1="0.00" x2="19.94" y2="-19.94" stroke="#555" stroke-width="0.35"/>
<polygon points="6.20,0.00 19.94,19.94 0.00,6.20 0,0" fill="#fff" stroke="#2e2e2e" stroke-width="0.55" stroke-linejoin="round"/>
<line x1="0" y1="0" x2="19.94" y2="19.94" stroke="#333" stroke-width="0.45"/>
<line x1="3.10" y1="0.00" x2="19.94" y2="19.94" stroke="#555" stroke-width="0.35"/>
<line x1="0.00" y1="3.10" x2="19.94" y2="19.94" stroke="#555" stroke-width="0.35"/>
<polygon points="0.00,6.20 -19.94,19.94 -6.20,0.00 0,0" fill="#fff" stroke="#2e2e2e" stroke-width="0.55" stroke-linejoin="round"/>
<line x1="0" y1="0" x2="-19.94" y2="19.94" stroke="#333" stroke-width="0.45"/>
<line x1="0.00" y1="3.10" x2="-19.94" y2="19.94" stroke="#555" stroke-width="0.35"/>
<line x1="-3.10" y1="0.00" x2="-19.94" y2="19.94" stroke="#555" stroke-width="0.35"/>
<polygon points="-6.20,0.00 -19.94,-19.94 -0.00,-6.20 0,0" fill="#fff" stroke="#2e2e2e" stroke-width="0.55" stroke-linejoin="round"/>
<line x1="0" y1="0" x2="-19.94" y2="-19.94" stroke="#333" stroke-width="0.45"/>
<line x1="-3.10" y1="0.00" x2="-19.94" y2="-19.94" stroke="#555" stroke-width="0.35"/>
<line x1="-0.00" y1="-3.10" x2="-19.94" y2="-19.94" stroke="#555" stroke-width="0.35"/>
<polygon points="5.09,-5.09 28.80,0.00 5.09,5.09 0,0" fill="#fff" stroke="#2e2e2e" stroke-width="0.55" stroke-linejoin="round"/>
<line x1="0" y1="0" x2="28.80" y2="0.00" stroke="#333" stroke-width="0.45"/>
<line x1="2.55" y1="-2.55" x2="28.80" y2="0.00" stroke="#555" stroke-width="0.35"/>
<line x1="2.55" y1="2.55" x2="28.80" y2="0.00" stroke="#555" stroke-width="0.35"/>
<polygon points="5.09,5.09 0.00,28.80 -5.09,5.09 0,0" fill="#fff" stroke="#2e2e2e" stroke-width="0.55" stroke-linejoin="round"/>
<line x1="0" y1="0" x2="0.00" y2="28.80" stroke="#333" stroke-width="0.45"/>
<line x1="2.55" y1="2.55" x2="0.00" y2="28.80" stroke="#555" stroke-width="0.35"/>
<line x1="-2.55" y1="2.55" x2="0.00" y2="28.80" stroke="#555" stroke-width="0.35"/>
<polygon points="-5.09,5.09 -28.80,0.00 -5.09,-5.09 0,0" fill="#fff" stroke="#2e2e2e" stroke-width="0.55" stroke-linejoin="round"/>
<line x1="0" y1="0" x2="-28.80" y2="0.00" stroke="#333" stroke-width="0.45"/>
<line x1="-2.55" y1="2.55" x2="-28.80" y2="0.00" stroke="#555" stroke-width="0.35"/>
<line x1="-2.55" y1="-2.55" x2="-28.80" y2="0.00" stroke="#555" stroke-width="0.35"/>
<polygon points="-5.09,-5.09 0.00,-28.80 5.09,-5.09 0,0" fill="#3a3a3a" stroke="#2e2e2e" stroke-width="0.55" stroke-linejoin="round"/>
<text x="0" y="-41.5" font-family="Liberation Sans, sans-serif" font-size="21.5" font-weight="bold" fill="#111" stroke="#111" stroke-width="0.7" text-anchor="middle">S</text>
<text x="38" y="3.5" font-family="Liberation Sans, sans-serif" font-size="9.5" font-weight="bold" fill="#222" text-anchor="middle">I</text>
<text x="0" y="44.5" font-family="Liberation Sans, sans-serif" font-size="9.5" font-weight="bold" fill="#222" text-anchor="middle">J</text>
<text x="-39.5" y="3.5" font-family="Liberation Sans, sans-serif" font-size="9.5" font-weight="bold" fill="#222" text-anchor="middle">Z</text>
</g>
<g id="plants" fill="none" stroke-linecap="round">
<path d="M541.0 407.0L539.0 405.6M539.0 405.6L537.1 404.0M537.1 404.0L535.2 402.5M535.2 402.5L532.6 402.5M532.6 402.5L530.1 402.8M530.1 402.8L528.7 401.1M528.7 401.1L527.5 399.2M530.1 402.8L527.6 403.1M527.6 403.1L526.5 401.6M526.5 401.6L525.2 400.3M527.6 403.1L525.1 403.8M525.1 403.8L522.7 404.4M522.7 404.4L522.3 406.3M522.3 406.3L522.0 408.2M535.2 402.5L533.1 401.2M533.1 401.2L531.3 399.5M531.3 399.5L528.8 399.8M528.8 399.8L526.3 400.0M526.3 400.0L523.9 400.3M523.9 400.3L521.4 400.1M531.3 399.5L529.7 397.7M529.7 397.7L528.2 395.7M528.2 395.7L525.7 396.6M525.7 396.6L523.2 397.6M523.2 397.6L520.6 398.1M520.6 398.1L518.9 396.2M518.9 396.2L517.6 394.0M520.6 398.1L518.1 398.9M518.1 398.9L516.9 400.4M516.9 400.4L516.0 402.2M518.1 398.9L515.7 400.0M515.7 400.0L513.5 398.5M513.5 398.5L511.5 396.8M528.2 395.7L527.2 393.5M527.2 393.5L528.4 390.9M528.4 390.9L529.4 388.1M529.4 388.1L531.3 386.8M531.3 386.8L533.4 386.1M529.4 388.1L530.6 385.5M530.6 385.5L532.4 385.2M532.4 385.2L534.1 385.0M530.6 385.5L532.4 383.1M527.2 393.5L526.0 391.3M526.0 391.3L524.9 389.1M524.9 389.1L525.8 386.3M525.8 386.3L526.9 383.6M526.9 383.6L528.5 383.1M528.5 383.1L529.9 382.2M526.9 383.6L528.5 381.2M528.5 381.2L530.2 380.7M530.2 380.7L531.7 379.9M524.9 389.1L523.5 387.1M523.5 387.1L524.5 384.5M524.5 384.5L525.7 382.0M525.7 382.0L525.3 380.9M525.3 380.9L524.8 379.8M525.7 382.0L526.5 379.4M523.5 387.1L521.7 385.5M521.7 385.5L520.1 383.6M520.1 383.6L517.5 383.1M517.5 383.1L515.0 382.4M515.0 382.4L512.6 381.4M512.6 381.4L511.4 379.7M511.4 379.7L509.9 378.4M512.6 381.4L509.9 381.1M541.0 407.0L539.4 405.1M539.4 405.1L537.8 403.2M537.8 403.2L537.8 399.7M537.8 399.7L537.4 396.2M537.8 403.2L536.0 401.6M536.0 401.6L533.9 400.2M533.9 400.2L531.6 399.3M531.6 399.3L530.4 396.5M530.4 396.5L529.9 393.6M529.9 393.6L530.7 391.9M530.7 391.9L531.6 390.3M529.9 393.6L529.3 390.6M531.6 399.3L529.2 398.9M529.2 398.9L526.8 398.1M526.8 398.1L525.6 395.8M525.6 395.8L523.9 393.8M523.9 393.8L522.3 391.6M526.8 398.1L524.7 396.8M524.7 396.8L524.6 393.5M524.6 393.5L525.1 390.3M524.7 396.8L522.5 395.7M522.5 395.7L522.9 392.5M522.9 392.5L523.1 389.2M523.1 389.2L522.2 388.2M522.2 388.2L521.6 387.0M522.5 395.7L520.7 394.0M520.7 394.0L520.7 391.6M520.7 391.6L520.8 389.2M520.8 389.2L519.8 388.3M519.8 388.3L518.7 387.5M520.8 389.2L521.1 386.8M521.1 386.8L520.8 384.4M520.8 384.4L519.9 383.5M519.9 383.5L518.8 382.8M541.0 407.0L541.1 404.6M541.1 404.6L540.9 402.1M540.9 402.1L540.5 399.7M540.5 399.7L542.3 397.9M542.3 397.9L544.3 396.3M544.3 396.3L545.6 396.7M545.6 396.7L546.9 396.8M544.3 396.3L545.9 394.4M540.5 399.7L539.6 397.5M539.6 397.5L539.2 395.1M539.2 395.1L540.8 392.1M540.8 392.1L542.2 389.1M542.2 389.1L543.1 388.9M543.1 388.9L544.0 388.9M539.2 395.1L539.4 392.7M539.4 392.7L541.2 390.9M541.2 390.9L542.6 388.9M542.6 388.9L542.4 387.4M542.4 387.4L542.3 385.8M542.6 388.9L544.0 386.8M544.0 386.8L543.9 385.4M543.9 385.4L543.8 383.9M539.4 392.7L539.8 390.3M539.8 390.3L543.0 389.3M543.0 389.3L546.0 387.7M546.0 387.7L547.0 387.8M547.0 387.8L548.0 387.6M539.8 390.3L540.2 387.9M540.2 387.9L541.0 385.6M541.0 385.6L543.5 384.9M543.5 384.9L545.9 384.1M545.9 384.1L548.4 383.7M548.4 383.7L549.3 384.6M549.3 384.6L550.1 385.6M541.0 385.6L541.9 383.3M541.0 407.0L543.2 405.4M543.2 405.4L545.8 404.4M545.8 404.4L548.5 403.9M548.5 403.9L551.0 403.1M551.0 403.1L553.7 402.5M553.7 402.5L556.4 402.2M556.4 402.2L558.4 400.0M558.4 400.0L560.5 397.8M560.5 397.8L561.6 397.5M561.6 397.5L562.7 397.3M556.4 402.2L559.2 402.1M559.2 402.1L561.3 403.5M561.3 403.5L563.2 405.2M563.2 405.2L563.2 406.0M563.2 406.0L562.9 406.8M541.0 407.0L543.5 407.2M543.5 407.2L546.0 407.1M546.0 407.1L547.0 409.6M547.0 409.6L547.6 412.2M547.6 412.2L546.8 413.0M546.8 413.0L546.1 413.8M547.6 412.2L547.6 414.8M547.6 414.8L548.6 415.6M548.6 415.6L549.6 416.6M546.0 407.1L548.4 406.7M548.4 406.7L549.7 404.2M549.7 404.2L550.7 401.6M550.7 401.6L550.0 400.5M550.0 400.5L549.2 399.5M550.7 401.6L552.1 399.2M552.1 399.2L553.6 398.7M553.6 398.7L555.0 398.1M548.4 406.7L550.9 406.3M550.9 406.3L553.2 405.6M553.2 405.6L555.5 404.7M555.5 404.7L557.6 403.2M557.6 403.2L559.9 402.3M559.9 402.3L560.5 399.6M560.5 399.6L561.2 396.9M561.2 396.9L561.6 394.2M559.9 402.3L561.9 400.9M561.9 400.9L561.3 398.1M561.3 398.1L561.4 395.3M561.4 395.3L560.5 394.2M560.5 394.2L559.4 393.2M561.4 395.3L562.1 392.5M562.1 392.5L563.4 391.7M563.4 391.7L564.4 390.5M541.0 407.0L542.8 408.9M542.8 408.9L545.0 410.4M545.0 410.4L548.3 409.6M548.3 409.6L551.6 408.9M551.6 408.9L551.9 407.5M551.9 407.5L552.0 406.1M545.0 410.4L547.4 411.7M547.4 411.7L550.1 410.6M550.1 410.6L552.7 409.2M552.7 409.2L552.7 408.3M552.7 408.3L552.9 407.4M547.4 411.7L549.8 412.7M549.8 412.7L550.3 415.6M550.3 415.6L551.4 418.4M551.4 418.4L550.7 419.2M550.7 419.2L549.9 419.9M549.8 412.7L552.3 413.4M552.3 413.4L554.9 412.3M554.9 412.3L557.3 411.0M557.3 411.0L558.4 412.1M558.4 412.1L559.5 413.0M557.3 411.0L559.5 409.3M559.5 409.3L560.6 409.8M560.6 409.8L561.6 410.5M552.3 413.4L554.7 414.6M554.7 414.6L557.1 415.7M557.1 415.7L559.6 416.6M541.0 407.0L541.3 409.7M541.3 409.7L541.8 412.3M541.8 412.3L540.4 414.7M540.4 414.7L539.3 417.3M539.3 417.3L538.8 420.0M538.8 420.0L539.7 421.0M539.7 421.0L540.5 422.0M541.8 412.3L541.9 415.0M541.9 415.0L544.8 415.8M544.8 415.8L547.7 416.2M547.7 416.2L548.3 415.5M548.3 415.5L548.8 414.8M541.9 415.0L542.5 417.6M542.5 417.6L543.2 420.1M543.2 420.1L543.6 422.8M543.6 422.8L543.7 425.5M543.7 425.5L543.9 428.1M541.0 407.0L539.6 409.0M539.6 409.0L538.5 411.2M538.5 411.2L537.8 413.5M537.8 413.5L538.7 416.4M538.7 416.4L540.2 419.1M540.2 419.1L541.5 421.8M537.8 413.5L537.6 416.0M537.6 416.0L539.7 418.8M539.7 418.8L542.1 421.3M542.1 421.3L543.2 421.6M543.2 421.6L544.3 422.1M537.6 416.0L536.9 418.3M536.9 418.3L535.7 420.4M535.7 420.4L533.5 421.5M533.5 421.5L531.4 422.7M531.4 422.7L529.7 424.4M529.7 424.4L528.6 424.2M528.6 424.2L527.6 424.1M535.7 420.4L534.8 422.7M534.8 422.7L535.8 425.6M535.8 425.6L536.7 428.6M536.7 428.6L537.9 431.4M534.8 422.7L534.0 425.0M534.0 425.0L534.4 427.8M534.4 427.8L534.4 430.7M534.0 425.0L533.5 427.4M541.0 407.0L538.5 406.8M538.5 406.8L536.1 407.0M536.1 407.0L534.6 409.9M534.6 409.9L532.6 412.5M532.6 412.5L531.3 412.2M531.3 412.2L530.1 411.5M536.1 407.0L533.6 406.9M533.6 406.9L532.2 408.7M532.2 408.7L531.1 410.7M531.1 410.7L530.3 411.0M530.3 411.0L529.5 411.2M533.6 406.9L531.2 407.4M531.2 407.4L528.9 408.8M528.9 408.8L526.9 410.6M531.2 407.4L528.9 408.1M528.9 408.1L526.8 411.0M526.8 411.0L525.2 414.0M525.2 414.0L524.4 414.4M524.4 414.4L523.6 415.0M528.9 408.1L526.5 408.7M526.5 408.7L524.0 408.9M489.5 232.5L492.0 232.9M492.0 232.9L494.5 233.0M494.5 233.0L496.1 231.1M496.1 231.1L497.8 229.2M497.8 229.2L497.9 228.5M497.9 228.5L497.9 227.7M494.5 233.0L496.9 232.6M496.9 232.6L498.0 230.9M498.0 230.9L499.0 229.0M499.0 229.0L498.4 228.4M498.4 228.4L497.9 227.7M496.9 232.6L499.3 231.9M499.3 231.9L501.8 232.8M501.8 232.8L504.3 233.9M504.3 233.9L505.1 233.7M505.1 233.7L505.9 233.6M499.3 231.9L501.8 231.6M501.8 231.6L504.1 230.7M489.5 232.5L491.2 234.2M491.2 234.2L493.0 235.9M493.0 235.9L495.2 236.8M495.2 236.8L497.6 237.2M497.6 237.2L498.0 237.7M498.0 237.7L498.4 238.3M493.0 235.9L494.8 237.6M494.8 237.6L497.2 236.2M497.2 236.2L499.6 234.7M499.6 234.7L499.4 233.8M499.4 233.8L499.5 232.9M494.8 237.6L496.4 239.4M496.4 239.4L498.2 241.0M498.2 241.0L498.2 243.0M498.2 243.0L498.4 244.9M498.4 244.9L498.9 245.5M498.9 245.5L499.4 246.0M498.2 241.0L500.0 242.7M500.0 242.7L500.1 245.0M500.1 245.0L500.6 247.3M489.5 232.5L488.6 234.8M488.6 234.8L488.0 237.1M488.0 237.1L487.1 239.3M487.1 239.3L488.3 241.6M488.3 241.6L489.4 244.0M487.1 239.3L486.6 241.7M486.6 241.7L485.0 242.7M485.0 242.7L483.4 243.8M486.6 241.7L485.9 244.0M485.9 244.0L487.7 245.7M487.7 245.7L489.7 247.2M489.7 247.2L489.7 248.0M489.7 248.0L489.9 248.8M485.9 244.0L485.2 246.3M489.5 232.5L487.9 234.4M487.9 234.4L486.8 236.6M486.8 236.6L486.1 238.9M486.1 238.9L485.2 241.2M485.2 241.2L484.2 243.5M484.2 243.5L482.6 245.4M482.6 245.4L483.5 247.7M483.5 247.7L484.2 250.1M484.2 250.1L485.0 250.7M485.0 250.7L485.8 251.1M489.5 232.5L487.0 233.0M487.0 233.0L484.8 234.0M484.8 234.0L484.4 236.2M484.4 236.2L484.4 238.5M484.4 238.5L483.7 239.1M483.7 239.1L483.0 239.7M484.8 234.0L482.5 235.0M482.5 235.0L480.3 234.3M480.3 234.3L478.4 233.3M482.5 235.0L480.3 236.3M480.3 236.3L480.1 238.3M480.1 238.3L479.8 240.2M479.8 240.2L480.4 240.8M480.4 240.8L480.8 241.4M480.3 236.3L478.5 238.0M478.5 238.0L478.2 240.8M478.2 240.8L478.3 243.7M478.5 238.0L476.8 239.9M476.8 239.9L474.9 240.8M474.9 240.8L472.8 241.3M489.5 232.5L487.7 230.8M487.7 230.8L485.8 229.2M485.8 229.2L483.0 229.8M483.0 229.8L480.2 230.3M485.8 229.2L483.6 228.1M483.6 228.1L481.6 226.7M481.6 226.7L479.8 225.0M479.8 225.0L477.2 226.1M477.2 226.1L474.9 227.9M474.9 227.9L474.8 228.6M474.8 228.6L474.6 229.3M479.8 225.0L478.1 223.2M478.1 223.2L475.2 222.5M475.2 222.5L472.2 222.5M472.2 222.5L471.7 221.9M471.7 221.9L471.4 221.2M489.5 232.5L488.5 230.3M488.5 230.3L487.2 228.2M487.2 228.2L485.2 228.2M485.2 228.2L483.2 227.8M487.2 228.2L485.5 226.6M485.5 226.6L486.0 224.6M486.0 224.6L486.2 222.5M486.2 222.5L485.6 221.9M485.6 221.9L485.1 221.2M485.5 226.6L484.2 224.5M484.2 224.5L485.3 222.4M485.3 222.4L486.4 220.3M486.4 220.3L486.2 219.5M486.2 219.5L485.9 218.8M484.2 224.5L483.3 222.3M483.3 222.3L485.4 220.3M485.4 220.3L487.8 218.9M487.8 218.9L487.9 218.1M487.9 218.1L488.1 217.3M483.3 222.3L482.6 220.0M482.6 220.0L480.7 219.4M480.7 219.4L478.8 219.1M478.8 219.1L478.2 219.4M478.2 219.4L477.5 219.8M489.5 232.5L490.3 230.2M490.3 230.2L490.7 227.8M490.7 227.8L491.1 225.4M491.1 225.4L491.5 223.0M491.5 223.0L493.3 222.1M493.3 222.1L495.1 221.3M491.5 223.0L492.1 220.6M492.1 220.6L491.1 218.3M491.1 218.3L489.7 216.2M489.7 216.2L489.6 215.6M489.6 215.6L489.6 214.9M492.1 220.6L492.2 218.2M492.2 218.2L494.7 217.3M494.7 217.3L497.4 216.7M497.4 216.7L498.1 217.4M498.1 217.4L498.6 218.1M489.5 232.5L491.6 231.2M491.6 231.2L493.8 230.1M493.8 230.1L494.6 227.7M494.6 227.7L495.7 225.4M495.7 225.4L495.3 224.4M495.3 224.4L494.9 223.6M493.8 230.1L496.1 229.0M496.1 229.0L498.2 227.7M498.2 227.7L500.3 226.4M500.3 226.4L502.2 224.8M502.2 224.8L502.9 222.4M502.9 222.4L503.5 219.9M503.5 219.9L504.3 219.4M504.3 219.4L505.0 218.8" stroke="#79a650" stroke-width="0.5" opacity="0.42"/>
<path d="M539.0 405.6L536.6 406.8M532.6 402.5L531.4 401.4M522.7 404.4L520.3 405.0M528.8 399.8L527.4 401.4M521.4 400.1L518.9 399.9M511.5 396.8L509.6 396.4M527.2 393.5L528.4 391.3M532.4 385.2L533.7 385.7M534.1 385.0L535.0 386.2M524.8 379.8L526.0 378.7M530.4 396.5L528.2 396.4M520.7 391.6L523.3 390.5M520.7 394.0L518.8 392.4M546.9 396.8L549.4 397.1M545.9 394.4L545.4 392.9M542.2 389.1L544.1 388.0M544.0 388.9L546.5 388.8M544.0 386.8L545.5 387.3M543.0 389.3L544.3 390.0M546.0 387.7L548.3 386.6M543.5 384.9L545.2 386.5M549.3 384.6L551.9 385.2M548.5 403.9L549.0 402.0M546.0 407.1L547.5 408.2M549.6 416.6L548.5 418.8M549.2 399.5L549.2 397.6M552.1 399.2L554.5 399.1M561.3 398.1L559.2 397.6M561.4 395.3L559.8 393.9M551.4 418.4L552.3 420.7M558.4 412.1L558.2 414.0M559.5 413.0L562.1 411.5M548.3 415.5L547.4 413.4M548.8 414.8L548.1 413.6M540.2 419.1L538.8 421.4M527.6 424.1L525.2 423.7M526.5 408.7L524.9 407.2M524.0 408.9L521.5 409.1M498.0 230.9L499.4 230.8M499.0 229.0L500.1 226.8M501.8 231.6L502.0 230.1M497.6 237.2L498.8 236.5M498.2 241.0L499.7 240.8M485.9 244.0L483.1 244.5M489.7 247.2L490.2 249.0M489.9 248.8L488.7 250.1M478.3 243.7L480.1 244.9M478.3 243.7L478.4 246.2M474.9 240.8L475.2 243.3M484.2 224.5L484.5 221.6M487.9 218.1L489.1 217.2M480.7 219.4L479.1 216.9M477.5 219.8L475.7 219.0M495.1 221.3L497.4 220.3M492.1 220.6L493.7 219.5" stroke="#a5cf80" stroke-width="1.3" opacity="0.42"/>
<path d="M539.0 405.6L539.4 404.3M537.1 404.0L535.8 404.7M535.2 402.5L532.4 402.5M522.7 404.4L521.4 402.7M516.9 400.4L515.1 400.5M531.3 386.8L532.7 388.0M512.6 381.4L510.9 383.0M531.6 399.3L529.7 400.7M529.3 390.6L526.9 390.4M522.3 391.6L520.9 391.8M524.7 396.8L522.3 397.2M542.3 385.8L544.5 385.2M541.0 385.6L540.6 383.4M548.4 383.7L549.1 382.6M541.9 383.3L540.7 382.2M541.9 383.3L542.7 380.9M559.4 393.2L557.7 393.4M545.0 410.4L545.6 413.3M552.0 406.1L550.9 405.4M552.7 409.2L554.9 408.1M558.4 412.1L560.3 411.0M541.3 409.7L539.5 411.9M544.8 415.8L546.1 414.4M547.7 416.2L549.6 415.0M548.8 414.8L550.3 412.8M536.9 418.3L534.4 418.7M529.7 424.4L530.0 426.3M535.8 425.6L537.6 425.9M535.8 425.6L535.1 427.3M537.9 431.4L539.8 431.4M531.1 410.7L532.0 413.1M524.4 414.4L524.1 417.4M523.6 415.0L522.1 414.8M524.0 408.9L523.1 409.9M501.8 232.8L502.2 234.6M498.0 237.7L500.1 237.7M494.8 237.6L495.0 239.8M499.5 232.9L501.4 231.4M496.4 239.4L498.3 240.0M498.2 243.0L498.9 244.4M489.4 244.0L488.2 245.3M485.2 241.2L486.2 243.8M484.2 243.5L485.1 245.4M485.8 251.1L488.1 250.0M483.0 239.7L481.0 241.2M480.8 241.4L482.1 243.6M478.2 240.8L479.7 242.7M478.3 243.7L477.4 245.3M478.1 223.2L476.3 221.4M488.5 230.3L489.1 229.1M483.2 227.8L482.1 226.3M485.4 220.3L487.1 221.2M482.6 220.0L481.8 217.6M495.7 225.4L496.7 223.1" stroke="#5f9a3a" stroke-width="0.7" opacity="0.42"/>
<path d="M537.1 404.0L537.0 402.5M533.1 401.2L531.0 401.5M521.4 400.1L519.9 401.7M529.4 388.1L527.4 386.1M530.6 385.5L532.1 385.5M525.8 386.3L528.2 386.3M528.5 381.2L528.2 379.1M531.7 379.9L532.2 377.2M528.5 381.2L530.0 379.1M517.5 383.1L516.2 381.4M511.4 379.7L510.1 379.3M521.6 387.0L519.7 386.3M520.7 394.0L519.4 394.7M518.7 387.5L516.8 386.0M520.8 384.4L522.5 383.3M518.8 382.8L516.4 383.5M541.1 404.6L539.3 402.5M542.2 389.1L540.9 387.0M539.8 390.3L538.6 389.4M548.4 383.7L549.6 384.8M550.1 385.6L548.6 388.2M548.4 383.7L550.9 383.4M543.2 405.4L543.9 403.6M548.4 406.7L549.3 405.6M552.1 399.2L551.9 396.6M561.9 400.9L561.6 398.4M547.4 411.7L549.5 411.5M550.7 419.2L551.7 421.5M561.6 410.5L561.6 412.3M541.8 412.3L540.8 414.8M540.4 414.7L541.1 416.2M548.8 414.8L551.8 414.8M544.3 422.1L546.5 423.3M535.7 420.4L533.2 420.0M531.4 422.7L531.0 424.0M534.8 422.7L532.1 423.5M533.5 427.4L533.1 429.9M534.6 409.9L532.6 410.3M531.3 412.2L529.6 414.0M531.3 412.2L530.6 410.5M524.4 414.4L522.1 412.6M497.6 237.2L500.1 237.6M499.5 232.9L499.6 230.4M488.3 241.6L486.6 243.6M487.7 245.7L487.3 248.2M489.9 248.8L491.4 250.0M484.2 250.1L486.0 250.5M487.0 233.0L485.8 231.1M484.4 236.2L481.9 237.6M481.6 226.7L480.5 227.5M472.2 222.5L469.7 222.5M486.4 220.3L488.1 219.5M483.3 222.3L481.5 221.3M478.2 219.4L477.9 221.6M490.7 227.8L489.7 225.9M490.7 227.8L492.5 227.3M491.1 218.3L489.3 217.7M489.6 215.6L488.2 213.9M498.1 217.4L500.9 217.6M492.2 218.2L492.3 215.7M493.8 230.1L494.0 228.5M493.8 230.1L496.2 231.5M503.5 219.9L505.2 218.2" stroke="#7db24f" stroke-width="0.7" opacity="0.42"/>
<path d="M535.2 402.5L535.4 401.1M531.3 399.5L529.2 399.3M526.3 400.0L525.2 398.3M529.7 397.7L527.1 397.1M529.7 397.7L530.3 395.8M520.6 398.1L519.6 397.1M517.6 394.0L517.6 392.5M516.0 402.2L514.9 404.4M528.5 383.1L528.6 380.9M525.7 382.0L527.0 381.6M520.1 383.6L518.6 381.6M523.9 393.8L521.7 393.2M524.6 393.5L526.7 392.7M519.9 383.5L517.0 383.5M540.5 399.7L542.1 397.8M539.6 397.5L540.7 395.4M543.9 385.4L545.3 383.6M546.0 387.7L547.9 388.8M548.0 387.6L550.3 389.0M549.3 384.6L548.7 387.3M562.9 406.8L561.3 407.8M546.8 413.0L545.3 413.2M546.1 413.8L543.6 413.9M550.0 400.5L550.8 398.2M553.6 398.7L554.7 396.9M550.9 406.3L551.9 405.0M559.9 402.3L560.2 401.0M560.5 399.6L559.3 398.5M561.6 394.2L563.9 393.5M551.9 407.5L553.7 406.1M550.1 410.6L552.8 411.7M552.3 413.4L553.2 412.0M559.5 413.0L559.4 415.3M560.6 409.8L561.2 412.4M559.6 416.6L561.2 418.6M543.7 425.5L545.2 426.5M538.5 411.2L537.0 411.4M544.3 422.1L546.9 420.7M531.2 407.4L530.1 406.7M526.8 411.0L527.5 413.3M526.8 411.0L524.0 410.2M497.9 228.5L500.0 227.7M497.8 229.2L499.6 227.4M497.9 227.7L495.5 227.9M499.4 233.8L498.0 232.5M500.0 242.7L501.8 244.4M487.9 234.4L485.5 233.7M480.3 236.3L479.3 238.6M480.1 238.3L481.5 239.4M474.9 227.9L472.5 227.3M485.1 221.2L485.1 219.3M484.2 224.5L482.6 224.1M485.3 222.4L484.2 219.9M498.6 218.1L500.0 220.1" stroke="#9bc974" stroke-width="1.3" opacity="0.42"/>
<path d="M532.6 402.5L530.3 404.3M530.1 402.8L528.3 402.1M527.6 403.1L526.9 401.6M522.3 406.3L520.3 406.6M522.0 408.2L522.9 410.1M525.7 396.6L525.7 398.1M515.7 400.0L515.9 402.6M513.5 398.5L512.4 399.3M533.4 386.1L535.7 385.2M530.6 385.5L530.0 384.0M532.4 383.1L533.9 381.2M520.1 383.6L518.1 384.4M509.9 381.1L508.9 382.2M539.4 405.1L539.1 403.3M537.4 396.2L535.2 394.8M533.9 400.2L534.4 397.9M529.9 393.6L528.3 391.5M525.6 395.8L527.0 393.2M522.9 392.5L525.5 392.1M519.8 388.3L519.8 386.7M518.7 387.5L516.4 387.1M518.8 382.8L516.8 381.3M540.8 392.1L540.1 389.3M544.0 386.8L545.4 384.8M547.0 387.8L548.6 386.6M543.2 405.4L546.1 405.4M551.0 403.1L553.0 405.3M556.4 402.2L557.0 403.5M562.7 397.3L564.8 399.2M563.2 405.2L562.7 406.5M549.2 399.5L547.6 397.6M559.9 402.3L561.9 403.0M560.5 399.6L562.2 399.1M559.4 393.2L559.1 390.6M551.6 408.9L554.1 408.3M551.4 418.4L550.3 419.5M557.3 411.0L557.6 408.4M541.3 409.7L543.2 410.4M543.9 428.1L541.9 429.2M539.6 409.0L538.0 409.6M538.5 411.2L539.5 412.5M528.6 424.2L527.5 425.5M534.0 425.0L535.2 427.5M534.4 430.7L534.5 433.2M534.6 409.9L535.9 411.7M530.1 411.5L527.5 412.0M529.5 411.2L527.2 412.1M528.9 408.8L527.4 408.5M528.9 408.1L527.0 406.3M523.6 415.0L522.8 417.5M497.8 229.2L500.0 229.8M504.3 233.9L506.6 234.9M498.4 238.3L499.9 240.2M500.0 242.7L501.7 241.7M484.2 250.1L482.6 251.3M478.4 233.3L477.8 231.3M480.4 240.8L480.1 242.1M477.2 226.1L475.7 224.9M483.2 227.8L481.4 228.3M486.0 224.6L483.7 223.1M486.0 224.6L488.7 224.4M489.7 216.2L489.8 214.3M495.3 224.4L493.5 224.1M494.9 223.6L495.1 221.1M500.3 226.4L500.4 224.4" stroke="#7db24f" stroke-width="1.0" opacity="0.42"/>
<path d="M530.1 402.8L529.7 405.3M528.7 401.1L529.1 399.3M522.0 408.2L521.7 410.7M523.9 400.3L522.6 401.8M521.4 400.1L520.5 397.3M525.7 396.6L524.4 396.1M523.2 397.6L522.4 396.6M518.1 398.9L517.9 401.2M529.4 388.1L531.5 387.3M524.9 389.1L523.0 388.7M526.9 383.6L529.4 383.8M529.9 382.2L530.5 380.6M529.9 382.2L531.6 383.0M528.5 381.2L530.0 381.3M539.4 405.1L537.4 405.6M537.4 396.2L537.2 393.7M530.4 396.5L531.8 394.8M529.3 390.6L528.8 388.2M520.8 389.2L522.9 387.4M539.2 395.1L537.6 394.4M541.2 390.9L543.7 390.4M548.0 387.6L550.5 387.2M558.4 400.0L560.2 400.9M560.5 397.8L559.8 396.7M560.5 397.8L562.2 396.0M546.0 407.1L546.6 406.0M555.0 398.1L557.3 397.2M555.5 404.7L557.3 406.7M561.2 396.9L559.6 395.0M560.5 394.2L560.7 392.8M545.0 410.4L547.1 409.9M549.8 412.7L551.9 411.8M549.8 412.7L549.6 414.6M550.3 415.6L551.7 415.8M557.1 415.7L557.4 418.1M538.8 420.0L537.4 421.0M540.5 422.0L542.1 423.8M537.8 413.5L536.3 414.6M533.5 421.5L531.5 420.6M497.8 229.2L496.9 227.5M498.4 228.4L498.6 226.8M499.4 246.0L499.2 248.5M498.4 244.9L498.7 247.4M489.7 247.2L491.6 248.7M486.1 238.9L488.2 240.7M485.0 250.7L484.5 252.3M484.8 234.0L482.5 233.6M482.5 235.0L481.4 237.6M478.4 233.3L476.1 232.1M478.2 240.8L476.1 242.8M474.9 240.8L472.6 239.8M472.8 241.3L472.4 244.2M485.8 229.2L485.3 227.2M483.0 229.8L482.0 228.0M483.6 228.1L483.8 226.8M474.8 228.6L472.7 230.2M475.2 222.5L474.3 219.8M471.4 221.2L469.0 221.4M488.1 217.3L489.1 216.4M478.8 219.1L476.3 218.8M497.4 216.7L498.4 215.8M491.6 231.2L490.9 228.7M494.6 227.7L493.2 225.7M505.0 218.8L507.1 219.5M505.0 218.8L506.8 217.1" stroke="#5f9a3a" stroke-width="1.0" opacity="0.42"/>
<path d="M528.7 401.1L527.3 401.4M527.5 399.2L526.2 397.1M526.5 401.6L523.8 401.8M525.2 400.3L522.4 400.7M525.2 400.3L523.5 398.4M526.3 400.0L524.5 401.2M518.9 396.2L516.6 397.0M516.9 400.4L517.4 402.4M515.7 400.0L514.2 399.5M526.9 383.6L525.8 381.1M520.1 383.6L520.7 381.0M509.9 378.4L509.5 376.9M529.2 398.9L528.2 397.8M544.3 396.3L545.1 393.7M544.0 388.9L545.1 387.8M544.0 388.9L546.1 390.8M542.4 387.4L540.1 386.4M542.3 385.8L542.3 383.3M543.8 383.9L542.0 382.1M547.0 409.6L546.7 411.6M546.8 413.0L546.2 415.4M547.6 414.8L549.2 415.6M549.6 416.6L551.3 418.4M547.6 414.8L547.6 417.3M561.9 400.9L563.9 399.4M542.8 408.9L542.7 411.9M552.7 409.2L553.1 406.8M552.7 409.2L553.9 409.9M550.3 415.6L549.2 417.7M543.6 422.8L544.7 423.5M543.7 425.5L542.3 426.1M538.7 416.4L540.9 416.6M537.6 416.0L538.6 416.9M527.6 424.1L527.3 421.6M533.5 427.4L535.7 429.1M532.6 412.5L532.5 414.8M531.2 407.4L531.1 408.8M496.1 231.1L497.4 230.9M498.4 228.4L496.0 228.0M504.3 233.9L505.1 232.9M491.2 234.2L493.8 234.4M499.6 234.7L501.2 235.0M488.6 234.8L490.0 236.0M486.6 241.7L488.1 242.7M489.9 248.8L490.3 251.2M486.8 236.6L485.1 236.7M485.8 251.1L486.2 252.4M485.8 251.1L488.1 252.1M487.7 230.8L486.9 228.4M480.2 230.3L479.3 232.0M480.2 230.3L478.3 229.6M474.8 228.6L476.1 229.3M472.2 222.5L471.1 223.4M483.2 227.8L480.8 227.2M485.5 226.6L485.5 224.4M486.2 222.5L486.5 220.0M486.2 219.5L486.6 217.7M487.8 218.9L489.4 220.1M490.3 230.2L491.9 229.9M493.3 222.1L494.8 222.5M495.1 221.3L496.5 218.8M489.7 216.2L488.3 214.2M502.9 222.4L502.6 220.5M502.2 224.8L504.1 223.1" stroke="#8cbf5e" stroke-width="1.0" opacity="0.42"/>
<path d="M527.5 399.2L524.9 397.9M520.6 398.1L520.0 400.3M531.3 386.8L532.0 384.3M533.4 386.1L535.6 387.7M526.0 391.3L524.6 390.9M530.2 380.7L531.3 382.3M523.5 387.1L522.0 386.4M512.6 381.4L512.4 379.0M530.7 391.9L529.8 390.7M526.8 398.1L524.0 398.8M522.5 395.7L520.8 396.5M522.2 388.2L520.7 388.5M541.1 404.6L543.6 403.3M540.5 399.7L538.4 397.7M542.3 397.9L542.2 396.5M545.9 394.4L547.4 392.4M539.6 397.5L538.2 397.3M540.8 392.1L542.4 391.2M542.6 388.9L542.3 387.3M542.3 385.8L541.1 384.0M550.1 385.6L552.4 385.0M549.7 404.2L551.5 404.0M562.1 392.5L564.1 391.9M551.6 408.9L553.5 409.6M550.7 419.2L549.1 419.2M557.3 411.0L559.4 412.6M538.8 420.0L539.9 421.3M547.7 416.2L550.2 416.5M541.5 421.8L543.8 421.7M541.5 421.8L540.3 423.1M530.1 411.5L529.8 409.7M526.5 408.7L526.1 411.0M524.0 408.9L521.6 407.3M498.0 230.9L496.6 228.5M505.1 233.7L506.2 232.1M497.2 236.2L498.3 234.4M499.4 233.8L501.0 232.7M485.0 242.7L482.3 242.2M489.7 247.2L491.4 246.1M485.2 246.3L484.0 247.1M484.2 243.5L482.2 244.5M485.0 250.7L487.0 250.4M484.4 238.5L483.4 239.6M483.7 239.1L482.2 237.9M485.9 218.8L483.5 218.7M485.9 218.8L485.2 216.4M485.4 220.3L485.3 217.9M482.6 220.0L484.5 217.8M478.2 219.4L476.0 217.5M491.1 225.4L492.7 224.2M498.6 218.1L497.7 219.8" stroke="#6fa544" stroke-width="1.3" opacity="0.42"/>
<path d="M527.5 399.2L528.0 397.3M522.7 404.4L521.9 405.9M518.9 396.2L518.6 393.9M513.5 398.5L512.9 396.1M511.5 396.8L509.6 395.1M534.1 385.0L536.6 384.6M524.5 384.5L525.6 383.8M521.7 385.5L519.6 386.0M522.2 388.2L522.8 385.3M523.1 389.2L523.3 386.7M520.7 391.6L519.9 390.3M540.9 402.1L542.8 400.5M546.9 396.8L548.1 397.6M543.1 388.9L544.5 389.6M546.0 387.7L546.0 385.9M540.2 387.9L542.4 386.8M560.5 397.8L562.6 397.4M559.2 402.1L560.2 404.6M563.2 406.0L565.2 407.8M550.7 401.6L552.2 400.9M550.0 400.5L547.7 399.9M561.4 395.3L563.3 393.4M548.3 409.6L550.1 407.2M561.6 410.5L563.6 411.9M559.5 409.3L561.5 407.8M539.3 417.3L541.1 419.5M544.8 415.8L545.2 417.5M527.6 424.1L526.4 425.3M529.7 424.4L527.8 426.1M534.4 430.7L535.4 432.0M536.1 407.0L535.0 409.0M531.1 410.7L529.2 411.5M530.3 411.0L530.0 412.3M492.0 232.9L493.3 231.5M496.9 232.6L497.8 230.4M497.9 227.7L498.4 225.4M499.3 231.9L500.8 229.3M504.3 233.9L504.6 235.7M505.9 233.6L506.9 234.7M493.0 235.9L491.8 238.4M495.2 236.8L497.4 234.8M495.2 236.8L495.2 239.5M499.6 234.7L500.0 232.3M499.6 234.7L501.6 233.3M500.6 247.3L502.1 247.7M500.6 247.3L498.2 248.7M488.6 234.8L487.0 234.8M484.2 250.1L484.8 252.5M482.6 245.4L481.1 247.3M474.6 229.3L473.9 231.7M486.2 219.5L484.2 219.1M480.7 219.4L478.4 221.0M478.8 219.1L478.0 217.4M491.5 223.0L493.3 222.1M491.6 231.2L492.9 232.0M496.1 229.0L497.0 227.2" stroke="#9bc974" stroke-width="1.0" opacity="0.42"/>
<path d="M527.6 403.1L526.5 403.9M522.3 406.3L524.3 407.3M522.0 408.2L519.7 408.7M533.1 401.2L532.5 398.3M528.2 395.7L526.9 395.9M528.2 395.7L528.7 393.4M523.2 397.6L522.8 399.8M531.7 379.9L533.8 378.6M524.5 384.5L523.1 382.2M526.5 379.4L527.3 377.0M529.3 390.6L531.0 389.2M524.6 393.5L522.2 392.4M520.8 384.4L520.6 381.9M544.3 396.3L546.1 396.4M545.6 396.7L545.8 398.7M545.9 394.4L548.2 394.6M543.1 388.9L544.1 386.9M544.0 386.8L542.8 385.2M543.8 383.9L543.6 381.4M541.0 385.6L542.6 385.3M541.9 383.3L543.0 382.4M545.8 404.4L546.8 402.5M559.2 402.1L561.6 402.0M546.1 413.8L546.1 415.2M563.4 391.7L564.1 390.0M552.7 408.3L551.1 407.1M552.3 413.4L553.6 415.5M559.5 409.3L559.2 407.5M539.3 417.3L537.2 418.4M542.5 417.6L540.1 419.1M539.7 418.8L538.9 421.1M543.2 421.6L544.6 422.8M535.7 420.4L536.2 421.8M536.7 428.6L539.1 429.2M534.4 430.7L532.2 431.9M530.1 411.5L527.9 410.3M533.6 406.9L532.2 408.3M529.5 411.2L527.5 410.8M526.9 410.6L526.9 412.2M525.2 414.0L522.9 414.7M497.9 227.7L500.2 227.1M485.0 242.7L485.2 244.9M484.4 238.5L484.5 241.0M480.3 234.3L479.7 231.5M487.2 228.2L488.0 227.1M485.6 221.9L486.0 219.9M487.8 218.9L488.3 217.3M491.1 225.4L489.7 224.0M498.6 218.1L501.0 218.9M502.2 224.8L502.1 222.6" stroke="#7db24f" stroke-width="1.3" opacity="0.42"/>
<path d="M526.5 401.6L526.1 398.8M525.1 403.8L524.3 402.4M533.4 386.1L533.6 384.7M534.1 385.0L535.5 383.0M526.0 391.3L526.7 389.1M525.8 386.3L524.6 385.1M528.5 383.1L530.0 383.6M525.3 380.9L526.7 379.2M524.8 379.8L523.0 379.2M526.5 379.4L525.4 376.7M515.0 382.4L513.2 384.5M509.9 378.4L507.8 379.2M536.0 401.6L534.1 402.5M531.6 390.3L533.1 390.1M524.7 396.8L523.5 394.7M525.1 390.3L523.4 389.3M525.1 390.3L525.5 387.8M518.8 382.8L518.7 380.3M542.3 397.9L544.5 398.3M542.4 387.4L544.2 386.4M540.2 387.9L538.4 386.4M543.5 384.9L544.5 383.5M551.0 403.1L551.7 400.7M562.7 397.3L563.2 394.9M562.9 406.8L562.2 409.2M547.6 414.8L546.3 415.7M549.6 416.6L552.0 417.1M550.7 401.6L550.0 400.3M549.2 399.5L547.1 400.3M561.6 394.2L559.3 392.5M564.4 390.5L563.5 388.7M562.1 392.5L562.8 390.1M551.6 408.9L552.5 407.5M549.9 419.9L549.8 421.6M560.6 409.8L562.0 408.7M559.6 416.6L562.0 417.4M539.7 421.0L539.0 423.2M538.8 420.0L538.4 422.5M543.9 428.1L544.1 430.6M534.0 425.0L531.2 424.9M530.3 411.0L528.0 410.1M531.1 410.7L529.9 412.8M499.0 229.0L500.7 229.4M498.4 238.3L498.4 239.8M498.4 244.9L500.0 247.1M489.4 244.0L490.5 246.3M486.6 241.7L484.4 242.7M485.2 246.3L486.6 247.6M485.2 241.2L482.7 241.8M483.0 239.7L482.2 241.9M480.3 236.3L477.8 234.8M478.5 238.0L479.3 240.2M472.8 241.3L470.4 241.8M476.8 239.9L475.2 241.7M483.6 228.1L482.3 228.9M479.8 225.0L479.9 223.2M472.2 222.5L471.0 220.7M485.3 222.4L488.3 222.0M486.4 220.3L487.5 218.1M477.5 219.8L475.3 221.0M489.6 214.9L491.5 212.7M494.7 217.3L496.2 215.3M498.1 217.4L498.5 219.4M494.9 223.6L493.7 221.3M498.2 227.7L498.2 225.3M502.2 224.8L503.9 225.8" stroke="#6fa544" stroke-width="0.7" opacity="0.42"/>
<path d="M525.2 400.3L526.3 398.3M531.3 399.5L532.0 397.7M517.6 394.0L515.3 394.5M532.4 383.1L534.1 383.2M529.9 382.2L532.1 380.8M523.5 387.1L524.1 384.2M509.9 378.4L508.1 376.7M531.6 399.3L531.0 398.1M529.9 393.6L530.7 392.4M530.7 391.9L532.5 392.1M531.6 390.3L533.0 388.2M521.1 386.8L519.3 385.6M540.9 402.1L539.0 400.7M545.6 396.7L546.9 395.6M543.0 389.3L544.5 387.5M556.4 402.2L557.3 400.3M558.4 400.0L558.5 397.7M547.0 409.6L548.9 410.6M553.6 398.7L556.1 399.2M554.9 412.3L555.3 409.8M554.9 412.3L556.7 412.8M557.1 415.7L558.7 415.5M543.2 420.1L542.1 422.5M544.3 422.1L545.6 424.1M531.4 422.7L529.1 421.4M528.6 424.2L527.9 423.0M534.4 427.8L536.2 429.1M532.6 412.5L531.2 412.2M528.9 408.8L529.1 411.6M526.9 410.6L525.0 412.2M525.2 414.0L524.0 416.2M497.9 227.7L497.9 225.2M505.9 233.6L508.4 233.2M504.1 230.7L506.4 229.8M496.4 239.4L495.1 242.0M498.9 245.5L498.0 246.7M499.4 246.0L501.2 247.8M483.4 243.8L481.4 245.2M483.5 247.7L485.2 248.5M483.7 239.1L483.7 240.4M480.3 234.3L478.5 234.9M478.1 223.2L476.0 223.5M471.4 221.2L473.1 219.9M485.1 221.2L482.9 221.0M485.1 221.2L483.4 219.3M483.3 222.3L483.7 219.8M492.1 220.6L490.4 218.8M489.6 214.9L488.6 214.0M492.2 218.2L490.5 216.4M495.7 225.4L495.1 224.2M494.9 223.6L493.5 223.2M500.3 226.4L501.5 227.5" stroke="#8cbf5e" stroke-width="1.3" opacity="0.42"/>
<path d="M525.1 403.8L524.1 404.9M523.9 400.3L523.2 398.9M524.8 379.8L523.7 377.5M537.8 399.7L536.2 399.1M536.0 401.6L535.7 400.1M533.9 400.2L532.3 401.2M529.2 398.9L527.7 400.6M522.3 391.6L520.9 389.6M543.9 385.4L543.0 384.3M539.8 390.3L541.6 388.7M550.1 385.6L551.7 387.6M548.5 403.9L550.4 405.8M553.7 402.5L555.0 400.1M553.7 402.5L555.7 403.4M563.2 406.0L561.9 407.0M543.5 407.2L544.6 408.1M555.0 398.1L556.9 399.3M564.4 390.5L567.4 390.1M548.3 409.6L550.2 411.2M547.4 411.7L548.0 414.4M552.9 407.4L552.4 405.9M551.4 418.4L553.0 419.4M559.6 416.6L562.0 415.4M540.4 414.7L537.6 414.2M543.9 428.1L545.2 428.6M537.8 413.5L539.4 415.7M542.1 421.3L543.8 423.1M533.5 421.5L533.4 424.1M529.7 424.4L526.9 423.9M534.8 422.7L535.1 424.2M537.9 431.4L536.4 433.4M532.6 412.5L531.0 414.5M532.2 408.7L529.5 408.3M525.2 414.0L526.2 415.8M496.9 232.6L498.1 233.4M501.8 232.8L503.5 231.6M505.9 233.6L507.1 232.1M499.5 232.9L498.3 230.9M498.2 243.0L496.3 244.3M498.4 244.9L496.3 246.1M483.4 243.8L481.1 243.0M489.7 248.0L487.9 249.2M487.9 234.4L487.9 236.4M486.1 238.9L483.9 239.7M487.7 230.8L485.5 230.8M485.8 229.2L483.3 229.4M483.0 229.8L481.5 232.0M479.8 225.0L478.1 225.1M487.9 218.1L486.1 216.7M488.1 217.3L487.3 214.6M487.8 218.9L489.9 217.6M490.3 230.2L489.6 228.6M489.7 216.2L487.8 216.2M497.4 216.7L499.9 216.3M504.3 219.4L504.3 218.0" stroke="#a5cf80" stroke-width="1.0" opacity="0.42"/>
<path d="M528.8 399.8L526.5 398.1M515.7 400.0L513.4 400.9M525.3 380.9L523.7 379.5M517.5 383.1L515.8 385.5M537.8 403.2L536.5 402.8M537.4 396.2L538.5 394.8M526.8 398.1L526.2 396.6M523.1 389.2L521.8 387.5M542.2 389.1L543.3 386.8M547.0 387.8L548.2 390.1M543.5 407.2L545.0 405.4M548.6 415.6L548.8 417.0M553.2 405.6L553.8 404.1M561.6 394.2L562.0 391.7M561.3 398.1L563.3 396.2M560.5 394.2L558.9 394.9M564.4 390.5L566.1 388.7M542.8 408.9L545.3 409.4M552.9 407.4L553.5 405.0M549.9 419.9L548.1 421.6M554.7 414.6L556.6 413.6M541.8 412.3L543.0 413.1M540.5 422.0L539.8 424.6M548.3 415.5L550.8 415.1M542.1 421.3L543.5 420.7M536.9 418.3L537.8 419.4M536.7 428.6L535.5 430.0M538.5 406.8L537.2 404.7M536.1 407.0L535.0 405.1M523.6 415.0L521.6 416.4M494.5 233.0L495.2 235.0M504.1 230.7L505.4 232.0M498.9 245.5L500.3 245.3M499.4 246.0L502.3 246.7M500.1 245.0L498.5 246.3M487.1 239.3L488.2 241.1M487.1 239.3L485.1 239.3M487.7 245.7L490.3 245.7M489.7 248.0L490.7 249.0M485.2 246.3L484.5 248.7M482.6 245.4L482.5 247.2M484.8 234.0L484.4 236.1M482.5 235.0L480.3 233.1M480.4 240.8L483.2 240.0M471.7 221.9L473.0 219.5M487.2 228.2L485.4 228.2M488.1 217.3L488.8 214.9M495.1 221.3L497.0 221.5M492.2 218.2L494.9 217.1M503.5 219.9L502.1 218.4" stroke="#a5cf80" stroke-width="0.7" opacity="0.42"/>
<path d="M517.6 394.0L516.4 391.8M532.4 385.2L533.8 383.9M524.9 389.1L526.0 388.1M526.5 379.4L529.2 378.4M515.0 382.4L514.2 380.7M509.9 381.1L509.0 379.9M537.8 403.2L538.6 400.4M531.6 390.3L530.2 388.5M523.9 393.8L523.8 392.1M519.9 383.5L519.9 380.7M546.9 396.8L549.2 395.7M539.4 392.7L540.8 390.8M543.8 383.9L545.7 382.2M561.6 397.5L563.6 399.2M559.2 402.1L560.8 399.6M546.1 413.8L544.4 415.7M550.9 406.3L552.5 408.3M555.5 404.7L556.5 403.2M557.6 403.2L560.0 404.9M561.2 396.9L563.2 396.8M552.0 406.1L552.2 403.6M539.7 421.0L542.3 420.9M540.5 422.0L543.1 421.0M543.2 420.1L545.3 420.4M543.6 422.8L542.4 424.3M541.5 421.8L542.6 424.1M539.7 418.8L541.5 418.3M543.2 421.6L545.7 420.6M533.6 406.9L532.7 404.8M532.2 408.7L533.7 410.7M528.9 408.1L527.9 409.7M496.1 231.1L495.7 229.7M499.0 229.0L497.0 226.8M505.1 233.7L506.1 234.8M504.1 230.7L504.0 228.8M486.8 236.6L487.3 238.1M482.6 245.4L480.1 246.2M483.5 247.7L482.6 248.8M484.4 238.5L485.7 239.5M483.0 239.7L481.7 239.2M480.8 241.4L479.5 243.4M479.8 240.2L479.5 242.7M476.8 239.9L477.4 241.2M480.2 230.3L477.7 230.7M474.6 229.3L475.2 231.1M471.7 221.9L470.4 221.5M471.4 221.2L470.5 218.9M485.2 228.2L483.2 226.1M486.2 222.5L487.7 221.8M478.8 219.1L477.5 220.5M503.5 219.9L504.0 217.5" stroke="#9bc974" stroke-width="0.7" opacity="0.42"/>
<path d="M518.1 398.9L516.9 397.1M527.2 393.5L525.9 393.3M528.4 390.9L530.9 391.0M531.7 379.9L533.2 380.9M525.7 382.0L525.2 380.0M525.1 390.3L526.5 388.9M520.7 394.0L521.5 392.2M520.8 389.2L519.5 388.2M548.0 387.6L548.3 385.8M545.9 384.1L547.7 385.3M563.2 405.2L564.6 404.9M549.7 404.2L548.2 402.6M552.1 399.2L553.4 397.1M557.6 403.2L558.0 400.3M552.0 406.1L553.2 405.5M552.9 407.4L555.2 406.8M549.9 419.9L547.9 418.9M561.6 410.5L564.1 410.3M541.9 415.0L539.9 417.1M538.7 416.4L538.1 418.2M537.6 416.0L535.7 418.1M542.1 421.3L542.2 423.5M526.9 410.6L525.0 410.3M494.5 233.0L496.8 231.2M497.9 228.5L495.5 227.2M497.9 227.7L496.2 225.8M499.3 231.9L500.4 232.7M491.2 234.2L491.2 236.3M497.6 237.2L498.1 240.0M498.2 241.0L497.5 243.1M500.0 242.7L499.0 245.4M500.1 245.0L501.4 246.7M500.6 247.3L501.1 249.7M488.0 237.1L489.7 239.3M488.0 237.1L486.0 238.1M480.8 241.4L482.9 242.2M477.2 226.1L475.8 228.3M474.6 229.3L472.1 230.5M478.1 223.2L478.7 221.5M488.5 230.3L486.9 230.4M485.5 226.6L482.9 226.6M491.5 223.0L490.3 221.8M491.1 218.3L491.6 216.8M489.6 215.6L490.8 213.7M497.4 216.7L498.1 218.1M496.1 229.0L498.6 230.7M505.0 218.8L504.3 216.0" stroke="#5f9a3a" stroke-width="1.3" opacity="0.42"/>
<path d="M516.0 402.2L517.1 404.0M532.4 383.1L531.7 380.9M511.4 379.7L511.6 377.3M537.8 399.7L539.0 398.5M525.6 395.8L523.8 396.0M522.3 391.6L523.9 389.1M523.1 389.2L524.6 388.3M521.6 387.0L521.6 384.4M519.8 388.3L516.9 388.6M520.8 384.4L519.4 382.9M539.4 392.7L538.1 390.4M545.8 404.4L547.9 406.1M562.7 397.3L565.1 396.9M561.3 403.5L562.4 402.5M561.3 403.5L561.6 404.9M562.9 406.8L563.3 408.2M547.6 412.2L546.4 413.8M548.6 415.6L551.6 415.6M555.0 398.1L555.7 395.5M553.2 405.6L555.7 406.7M559.4 393.2L557.5 391.6M562.1 392.5L561.3 391.1M563.4 391.7L564.7 392.7M551.9 407.5L550.9 405.6M554.7 414.6L554.9 416.6M541.9 415.0L543.8 415.9M547.7 416.2L549.8 418.1M539.6 409.0L540.0 410.9M540.2 419.1L541.6 419.1M537.9 431.4L538.9 433.6M538.5 406.8L536.1 408.3M529.5 411.2L528.6 413.1M501.8 231.6L503.7 232.7M498.0 237.7L496.4 239.5M494.8 237.6L496.7 237.2M497.2 236.2L499.4 236.4M488.3 241.6L489.8 242.5M489.4 244.0L490.8 244.1M483.4 243.8L483.2 246.0M485.9 244.0L487.7 246.0M487.0 233.0L485.8 234.0M478.4 233.3L475.6 234.2M479.8 240.2L481.9 241.4M481.6 226.7L480.7 224.9M475.2 222.5L474.0 223.7M485.2 228.2L483.9 229.0M486.4 220.3L485.3 218.2M482.6 220.0L480.9 219.9M493.3 222.1L493.1 220.6M495.7 225.4L498.4 225.2M495.3 224.4L496.6 222.1M502.9 222.4L505.1 222.1" stroke="#8cbf5e" stroke-width="0.7" opacity="0.42"/>
<path d="M516.0 402.2L513.3 402.1M511.5 396.8L511.9 395.3M528.4 390.9L527.0 389.4M530.2 380.7L530.5 379.4M521.7 385.5L521.7 384.0M509.9 381.1L507.5 380.8M522.5 395.7L522.8 394.2M522.9 392.5L521.4 391.4M521.6 387.0L520.4 384.8M518.7 387.5L517.9 385.2M521.1 386.8L522.9 385.7M539.2 395.1L540.2 393.5M541.2 390.9L541.8 388.2M542.6 388.9L544.7 389.4M545.9 384.1L546.4 382.4M561.6 397.5L562.9 395.1M563.2 405.2L565.1 406.8M547.6 412.2L549.5 413.5M548.4 406.7L549.8 408.3M561.9 400.9L564.2 402.2M550.1 410.6L551.3 408.9M552.7 408.3L554.3 406.3M559.5 413.0L561.5 414.5M559.5 409.3L561.8 410.6M542.5 417.6L544.4 418.0M534.4 427.8L532.9 429.2M533.5 427.4L530.7 427.9M492.0 232.9L492.5 234.2M497.9 227.7L496.7 226.3M493.0 235.9L494.4 235.2M498.4 238.3L500.4 237.6M484.4 236.2L485.7 237.3M480.1 238.3L478.6 240.1M479.8 240.2L478.6 241.8M478.5 238.0L477.0 237.2M476.8 239.9L474.1 240.2M472.8 241.3L471.0 239.9M474.9 227.9L474.1 229.8M474.9 227.9L472.9 229.4M486.2 222.5L485.5 221.3M485.6 221.9L483.0 222.2M485.9 218.8L487.0 217.3M477.5 219.8L476.9 221.3M489.6 214.9L489.5 212.4M494.7 217.3L495.9 218.8M494.6 227.7L496.9 226.1M498.2 227.7L500.0 228.8M504.3 219.4L507.0 220.5" stroke="#6fa544" stroke-width="1.0" opacity="0.42"/>
<path d="M543.5 398.1L541.9 398.3M538.7 402.1L538.2 399.4M481.2 228.9L483.1 228.1M487.1 236.7L485.8 237.3M494.3 231.3L495.4 232.0M526.1 238.2L528.5 238.7M526.1 238.2L525.3 239.6M530.6 240.6L531.0 239.3M529.8 245.5L530.0 248.0M464.2 227.2L462.7 224.6M472.4 233.0L470.4 232.3" stroke="#6fa544" stroke-width="0.7" opacity="0.35"/>
<path d="M538.1 402.2L538.2 400.4M542.0 401.7L541.6 404.0M529.9 243.1L531.5 245.0M469.6 229.8L469.2 231.7M475.6 230.5L473.2 229.5M471.4 233.5L469.6 232.1M472.1 236.0L470.7 237.2M472.5 237.1L471.1 239.2" stroke="#6fa544" stroke-width="1.0" opacity="0.35"/>
<path d="M537.7 407.2L539.6 405.3M545.4 410.0L545.9 408.8M540.2 404.5L540.9 403.4M490.7 228.2L491.9 226.6M533.1 238.8L532.7 240.2M529.3 240.6L530.4 239.7" stroke="#9bc974" stroke-width="1.3" opacity="0.35"/>
<path d="M546.3 410.6L545.5 408.3M550.9 402.5L548.7 402.3M485.5 231.7L485.0 233.5M487.2 224.6L485.0 224.3M490.0 239.3L490.8 238.4M478.5 231.0L479.0 233.3M465.7 227.7L463.1 228.0M475.6 230.5L474.7 232.2M471.9 234.9L470.4 236.9" stroke="#a5cf80" stroke-width="1.3" opacity="0.35"/>
<path d="M537.2 398.2L536.6 399.4M541.7 404.4L544.2 403.5M489.7 243.9L490.8 242.4M486.1 229.8L484.9 229.5M528.8 236.2L530.7 235.2M469.8 228.3L469.0 229.5" stroke="#5f9a3a" stroke-width="1.0" opacity="0.35"/>
<path d="M538.9 407.7L539.7 409.8M485.2 232.7L485.4 234.3M489.3 242.0L489.1 240.4M487.2 235.0L486.4 237.0M496.5 234.5L498.2 236.3M494.2 238.0L495.0 236.1M482.2 236.2L483.4 234.2M493.4 235.7L495.3 235.6M489.3 229.8L491.6 228.4M471.1 229.4L469.1 227.4M469.6 229.8L468.5 228.1" stroke="#8cbf5e" stroke-width="0.7" opacity="0.35"/>
<path d="M547.3 405.0L548.0 407.2M542.2 406.8L540.8 408.5M537.2 401.9L536.2 400.0M545.0 406.4L546.3 405.9M490.7 230.4L491.5 227.9M489.9 232.7L491.3 232.7M490.9 226.3L492.1 226.3M530.6 240.6L533.1 240.6" stroke="#8cbf5e" stroke-width="1.0" opacity="0.35"/>
<path d="M539.2 405.9L540.7 404.5M544.7 403.1L545.1 401.3M540.9 407.5L539.6 407.9M536.2 402.2L537.6 403.9M484.9 234.8L483.7 235.1M482.2 228.9L483.6 226.6M532.2 237.6L534.6 238.5M530.6 240.6L532.4 242.3M472.5 237.1L474.2 237.7" stroke="#6fa544" stroke-width="1.3" opacity="0.35"/>
<path d="M538.8 403.3L539.4 405.2M537.2 408.9L538.3 406.4M534.0 407.1L532.2 407.5M535.4 407.3L536.9 408.3M540.3 408.1L542.6 407.4M489.0 241.4L488.0 239.0M480.7 236.0L479.1 235.6M486.0 236.9L485.9 238.6M487.1 228.2L489.1 228.6M495.2 227.9L496.1 228.8M501.0 234.1L502.6 236.1M484.9 225.9L482.2 225.5M531.1 233.8L531.4 232.4M533.7 236.4L536.2 236.4M469.6 229.8L467.2 230.4M464.2 227.2L462.3 228.6" stroke="#7db24f" stroke-width="1.3" opacity="0.35"/>
<path d="M543.5 416.6L543.1 415.4M489.9 235.8L490.3 238.1M497.0 234.4L495.7 233.7M493.4 237.9L492.2 239.2M467.0 228.5L464.5 228.7" stroke="#7db24f" stroke-width="0.7" opacity="0.35"/>
<path d="M537.0 406.3L536.1 404.5M489.0 239.0L490.7 237.8M533.7 236.4L534.3 234.7M529.7 244.3L531.2 245.8M467.0 228.5L466.4 230.0M473.5 232.5L474.2 234.3" stroke="#7db24f" stroke-width="1.0" opacity="0.35"/>
<path d="M537.3 406.1L537.8 404.7M497.0 228.5L496.3 230.3M488.0 234.7L485.8 234.8M533.1 238.8L534.6 239.3M527.9 240.7L530.6 241.2M527.9 240.7L527.0 242.0M529.3 240.6L531.3 242.3M471.9 234.9L472.9 236.8" stroke="#9bc974" stroke-width="1.0" opacity="0.35"/>
<path d="M538.1 412.2L540.8 411.9M536.2 411.7L535.4 413.4M541.4 404.6L541.0 402.9M544.0 408.2L546.1 407.5M531.6 411.2L532.9 413.1M485.0 239.0L484.0 237.8M491.1 231.8L492.7 233.7M491.2 225.3L492.4 224.4M493.2 237.4L493.9 236.0M487.0 221.7L489.6 222.2M490.7 235.0L489.2 234.1M529.9 234.9L532.4 234.0M531.3 236.4L533.4 238.2M529.7 244.3L528.2 246.0" stroke="#5f9a3a" stroke-width="1.3" opacity="0.35"/>
<path d="M534.3 407.6L533.2 406.0M497.1 236.3L498.9 235.7M490.4 242.5L488.8 241.5M529.9 234.9L528.5 232.8M532.2 237.6L531.2 239.9M529.8 245.5L531.8 247.1M472.5 228.8L471.7 231.2M472.5 228.8L470.1 227.1M471.1 229.4L471.2 230.8M464.2 227.2L461.8 226.4M471.9 234.9L470.2 235.5" stroke="#a5cf80" stroke-width="1.0" opacity="0.35"/>
<path d="M546.6 411.4L544.1 412.0M550.2 401.3L551.7 400.1M540.2 412.5L538.5 413.2M541.0 413.7L541.2 416.1M544.1 406.6L543.8 405.1M498.2 231.5L499.9 230.0M526.4 236.2L527.0 234.8M531.3 236.4L532.2 235.4M475.2 228.8L474.1 229.8M469.8 228.3L468.6 227.1M465.7 227.7L464.5 225.1M473.5 232.5L470.6 232.8M471.4 233.5L469.2 234.6" stroke="#a5cf80" stroke-width="0.7" opacity="0.35"/>
<path d="M546.4 413.1L545.5 412.1M480.7 226.5L479.8 223.9M489.1 229.7L488.5 227.2M533.7 236.4L535.2 237.3M472.4 233.0L471.2 235.4M471.4 233.5L471.1 235.5" stroke="#8cbf5e" stroke-width="1.3" opacity="0.35"/>
<path d="M488.1 235.6L486.1 234.8M487.8 224.0L489.7 223.2M496.0 234.8L497.4 234.0M528.8 236.2L530.4 238.6M529.9 243.1L532.3 243.3M529.8 245.5L527.7 247.2M472.1 236.0L473.2 236.9M472.5 237.1L473.4 239.5" stroke="#5f9a3a" stroke-width="0.7" opacity="0.35"/>
<path d="M515.0 233.0L517.7 232.6M517.7 232.6L520.4 231.9M520.4 231.9L523.1 231.6M523.1 231.6L525.8 231.0M525.8 231.0L527.3 232.6M527.3 232.6L528.5 234.4M515.0 233.0L517.0 234.9M517.0 234.9L519.0 236.8M519.0 236.8L520.4 236.8M520.4 236.8L521.8 236.7M519.0 236.8L521.2 238.4M521.2 238.4L523.3 240.2M515.0 233.0L515.6 235.7M515.6 235.7L515.6 238.4M515.6 238.4L515.1 241.1M515.1 241.1L515.1 243.9M515.0 233.0L513.5 235.3M513.5 235.3L511.8 237.4M511.8 237.4L510.2 239.7M510.2 239.7L508.4 241.8M515.0 233.0L512.3 233.1M512.3 233.1L509.5 233.1M509.5 233.1L508.5 232.1M508.5 232.1L507.4 231.0M509.5 233.1L506.8 232.6M506.8 232.6L504.1 232.4M515.0 233.0L513.4 230.7M513.4 230.7L511.5 228.8M511.5 228.8L509.6 229.3M509.6 229.3L507.6 229.6M511.5 228.8L509.7 226.7M509.7 226.7L507.9 226.7M507.9 226.7L506.2 227.0M509.7 226.7L507.7 224.8M507.7 224.8L507.6 223.0M507.6 223.0L508.0 221.1M515.0 233.0L515.1 230.3M515.1 230.3L514.8 227.5M514.8 227.5L514.5 224.8M514.5 224.8L515.6 223.2M515.6 223.2L516.9 221.7M514.5 224.8L514.7 222.0M514.7 222.0L513.5 220.5M513.5 220.5L512.2 218.9M515.0 233.0L516.6 230.8M516.6 230.8L518.5 228.8M518.5 228.8L520.6 227.1M520.6 227.1L522.2 227.3M522.2 227.3L523.6 227.9M520.6 227.1L523.1 225.9" stroke="#79a650" stroke-width="0.5" opacity="0.5"/>
<path d="M517.7 232.6L519.2 231.3M520.4 231.9L521.0 230.3M525.8 231.0L528.2 230.5M523.3 240.2L525.0 239.9M508.4 241.8L507.1 242.0M504.1 232.4L503.5 230.9M516.9 221.7L516.4 219.6M516.9 221.7L518.5 219.8M522.2 237.1L523.1 238.0M524.3 234.9L524.0 236.6M520.8 236.1L521.2 238.6M515.6 239.8L513.5 238.8M508.2 232.9L509.5 231.0M516.1 232.9L515.0 233.4" stroke="#7db24f" stroke-width="0.7" opacity="0.5"/>
<path d="M517.7 232.6L519.5 233.4M523.1 231.6L524.2 234.1M517.0 234.9L519.4 235.0M521.8 236.7L524.3 236.6M508.4 241.8L506.8 243.7M509.7 226.7L507.9 227.0M507.6 223.0L509.4 221.4M512.2 218.9L510.6 217.0M520.6 227.1L521.2 225.5M511.1 231.1L508.9 230.9M516.1 229.4L515.4 227.3M511.9 231.3L513.4 230.9M515.8 229.0L513.3 228.3M514.1 230.7L511.5 231.6M514.1 237.7L514.8 235.9" stroke="#8cbf5e" stroke-width="0.7" opacity="0.5"/>
<path d="M520.4 231.9L523.0 233.1M519.0 236.8L520.3 236.1M508.5 232.1L509.5 229.6M506.8 232.6L506.4 230.0M513.4 230.7L510.6 230.0M513.4 230.7L513.5 228.3M513.5 220.5L512.1 220.8M523.6 227.9L525.9 228.7M516.8 233.7L517.2 234.9M513.3 234.0L515.4 233.9M514.1 231.5L512.9 231.9M512.4 237.5L513.1 240.0M507.3 228.9L505.4 227.1M514.1 232.2L514.8 231.3M518.8 235.6L519.6 237.2M516.5 234.2L517.1 236.8M523.3 228.1L521.0 226.6M517.7 233.9L516.1 235.2" stroke="#6fa544" stroke-width="1.3" opacity="0.5"/>
<path d="M523.1 231.6L524.4 230.3M515.1 243.9L513.2 244.4M515.1 243.9L515.1 246.4M509.5 233.1L508.6 232.1M523.1 225.9L525.4 224.9M516.0 229.8L518.7 230.1M519.0 231.4L520.6 232.3M511.1 231.8L512.7 231.5M510.6 227.9L508.8 226.0M512.8 233.2L514.1 234.1M516.1 233.0L516.5 231.3" stroke="#a5cf80" stroke-width="1.3" opacity="0.5"/>
<path d="M525.8 231.0L526.7 229.6M521.8 236.7L522.6 238.3M515.1 241.1L513.8 242.2M523.1 225.9L524.6 223.9M514.5 224.2L515.8 226.1M523.1 231.0L521.4 232.7M507.3 230.6L505.9 232.0M519.3 228.0L519.7 230.7M512.5 235.0L514.1 236.2M523.7 237.0L524.0 238.5" stroke="#7db24f" stroke-width="1.0" opacity="0.5"/>
<path d="M525.8 231.0L528.3 232.5M527.3 232.6L529.3 232.4M507.6 229.6L506.7 231.1M520.6 227.1L523.0 227.9M513.1 229.2L514.4 229.3M518.7 233.2L519.8 231.7M516.6 231.8L518.1 233.7M522.9 230.3L524.5 230.3M509.2 233.3L510.9 233.2M520.3 236.1L520.9 238.2M511.8 239.1L512.9 238.5M507.3 231.6L506.0 232.2" stroke="#9bc974" stroke-width="1.0" opacity="0.5"/>
<path d="M527.3 232.6L527.2 234.2M520.4 236.8L521.3 238.4M521.2 238.4L521.5 240.5M515.1 241.1L516.0 242.2M504.1 232.4L501.6 232.3M511.5 228.8L511.7 226.8M507.7 224.8L508.7 222.6M507.6 223.0L505.7 222.1M508.0 221.1L506.6 219.4M515.1 230.3L514.2 229.1M516.6 230.8L515.9 228.0M523.1 225.9L525.6 226.6M506.9 238.9L506.7 241.5M511.5 232.7L509.9 234.1M513.2 232.4L514.7 234.0M512.4 233.8L514.2 233.4M518.3 232.8L516.2 234.2M518.8 230.4L521.4 229.7M517.1 230.2L516.3 228.3M513.8 227.3L513.8 225.5M516.6 237.7L515.8 238.9M515.7 241.6L518.2 242.2" stroke="#8cbf5e" stroke-width="1.0" opacity="0.5"/>
<path d="M528.5 234.4L529.8 235.0M528.5 234.4L527.8 236.7M513.5 235.3L511.2 235.9M511.8 237.4L512.3 239.8M507.7 224.8L505.9 223.1M514.7 222.0L513.6 220.5M512.2 218.9L513.2 216.3M514.7 240.2L513.8 238.8M516.3 235.4L515.6 233.9M521.3 226.2L522.4 225.6M516.1 232.0L517.8 234.1M516.4 231.4L518.5 232.5M516.6 235.1L516.6 237.1M514.4 233.7L514.0 231.2M511.2 232.5L510.0 232.7M518.8 229.6L519.3 230.9M510.9 233.2L512.9 232.7M520.9 233.3L523.4 233.6M511.7 230.8L512.5 231.9" stroke="#a5cf80" stroke-width="1.0" opacity="0.5"/>
<path d="M528.5 234.4L530.0 236.5M523.3 240.2L523.8 241.5M523.3 240.2L525.3 241.7M515.6 238.4L514.5 240.2M512.3 233.1L511.5 234.9M512.3 233.1L509.7 231.8M508.0 221.1L510.3 220.8M515.6 223.2L515.6 221.2M516.6 228.3L515.2 226.8M516.3 227.5L515.7 226.4M511.9 233.3L513.3 234.4M511.8 237.0L512.6 235.5M507.6 227.7L508.2 226.4M518.9 224.6L519.0 226.8M515.8 224.7L514.4 224.8M514.6 228.9L517.2 228.1M516.9 237.6L516.9 236.1M514.4 226.4L513.7 227.7M518.4 232.3L517.0 231.7" stroke="#7db24f" stroke-width="1.3" opacity="0.5"/>
<path d="M517.0 234.9L517.1 237.4M520.4 236.8L522.9 235.3M522.2 227.3L524.1 228.9M523.6 227.9L524.6 229.2M520.8 237.1L519.2 234.9M513.2 229.2L511.8 227.8M522.3 233.4L524.1 232.7M522.5 227.1L521.0 228.2M519.3 232.5L517.7 233.9M513.3 230.6L514.4 229.3M516.5 233.0L518.2 233.3M513.5 235.1L514.0 233.1M514.2 225.0L512.9 222.9M515.9 227.5L515.5 229.1M508.0 239.8L509.1 239.3" stroke="#8cbf5e" stroke-width="1.3" opacity="0.5"/>
<path d="M519.0 236.8L519.3 239.4M521.2 238.4L522.7 237.9M515.1 243.9L516.6 246.4M513.5 235.3L514.1 237.3M511.5 228.8L509.3 229.6M507.6 229.6L505.2 230.0M509.7 226.7L510.1 224.9M507.9 226.7L507.1 228.9M507.7 224.8L505.9 225.8M515.1 230.3L517.1 228.1M513.5 220.5L514.3 219.0M523.6 227.9L524.8 226.9M519.6 234.1L521.9 233.0M517.2 233.2L517.1 230.7" stroke="#9bc974" stroke-width="0.7" opacity="0.5"/>
<path d="M521.8 236.7L523.7 235.2M506.2 227.0L503.8 227.4M514.8 227.5L516.3 225.8M514.7 222.0L515.0 219.6M518.5 228.8L517.8 227.2M516.7 231.2L515.0 229.2M509.7 235.2L511.5 235.2M513.8 237.5L516.1 238.1M506.4 227.4L504.6 228.5" stroke="#9bc974" stroke-width="1.3" opacity="0.5"/>
<path d="M515.6 235.7L517.2 236.4M507.4 231.0L505.6 229.3M507.9 226.7L506.8 224.3M506.2 227.0L506.0 229.4M514.8 227.5L513.5 226.3M514.5 224.8L513.5 223.4M514.9 234.9L516.6 234.9M509.3 232.3L510.2 229.6M513.3 226.8L511.6 227.8M515.6 223.7L516.4 226.1M513.0 239.3L512.9 237.8M512.2 229.3L509.4 228.9M513.3 232.4L514.5 233.8M515.9 231.0L514.4 228.7M509.8 236.2L509.3 238.0M511.1 231.1L511.2 232.8" stroke="#6fa544" stroke-width="0.7" opacity="0.5"/>
<path d="M515.6 235.7L514.2 236.7M510.2 239.7L510.8 241.2M509.5 233.1L508.6 235.2M509.6 229.3L508.9 231.0M509.6 229.3L507.1 227.9M512.2 218.9L510.6 219.3M516.6 230.8L519.2 231.6M518.5 228.8L521.1 229.2M512.1 229.1L513.7 227.3M507.3 236.9L507.2 238.7M517.0 230.7L518.5 229.4M514.4 233.2L514.2 231.5M506.9 226.9L508.8 224.9" stroke="#5f9a3a" stroke-width="1.3" opacity="0.5"/>
<path d="M515.6 238.4L516.9 239.5M508.4 241.8L508.8 243.9M506.8 232.6L505.7 234.1M517.6 236.6L516.7 234.7M517.8 232.0L516.5 233.1M514.7 236.5L515.5 238.5M520.6 229.2L520.7 231.9M507.7 227.5L507.1 225.5M524.2 232.7L522.4 233.6M523.1 229.9L524.6 228.7M509.0 239.7L506.7 240.1M516.5 236.0L516.1 238.7M506.7 230.9L507.6 232.4M507.5 237.0L509.2 238.3M517.2 228.3L516.5 230.6M510.2 230.7L511.2 233.1" stroke="#5f9a3a" stroke-width="1.0" opacity="0.5"/>
<path d="M511.8 237.4L509.8 237.6M507.4 231.0L504.4 230.7M507.4 231.0L508.2 228.4M504.1 232.4L502.0 234.1M507.6 229.6L506.8 227.9M514.7 222.0L516.5 221.5M520.4 230.1L522.5 231.6M517.4 226.6L516.9 229.3M507.3 231.9L508.8 231.2M517.7 227.1L519.9 226.4M509.0 229.1L510.8 228.1M521.2 229.5L519.9 229.6" stroke="#5f9a3a" stroke-width="0.7" opacity="0.5"/>
<path d="M510.2 239.7L507.4 240.7M506.2 227.0L504.4 226.1M515.6 223.2L517.9 223.4M522.2 227.3L524.1 225.4M520.6 231.3L521.6 229.7M519.3 227.5L520.0 226.3M518.5 229.9L518.2 231.9M515.6 226.5L515.6 224.6" stroke="#a5cf80" stroke-width="0.7" opacity="0.5"/>
<path d="M508.5 232.1L506.4 232.7M508.0 221.1L508.5 218.7M514.5 224.8L515.3 223.1M516.9 221.7L518.9 222.3M514.7 237.6L513.0 237.1M514.9 232.4L516.5 232.3M515.4 235.6L514.3 233.4M515.0 232.1L512.7 231.0M517.0 230.3L518.6 230.7M509.1 235.3L511.3 235.5M510.6 234.1L511.9 235.3M508.1 238.9L507.8 237.5M507.7 226.7L505.8 228.2M515.8 235.4L517.9 236.2" stroke="#6fa544" stroke-width="1.0" opacity="0.5"/>
<path d="M524.0 236.0L526.4 236.2M526.4 236.2L528.8 236.2M528.8 236.2L529.9 234.9M529.9 234.9L531.1 233.8M528.8 236.2L531.3 236.4M531.3 236.4L532.2 237.6M532.2 237.6L533.1 238.8M531.3 236.4L533.7 236.4M524.0 236.0L526.1 238.2M526.1 238.2L527.9 240.7M527.9 240.7L529.3 240.6M529.3 240.6L530.6 240.6M527.9 240.7L529.9 243.1M529.9 243.1L529.7 244.3M529.7 244.3L529.8 245.5M478.0 229.0L475.2 228.8M475.2 228.8L472.5 228.8M472.5 228.8L471.1 229.4M471.1 229.4L469.6 229.8M472.5 228.8L469.8 228.3M469.8 228.3L467.0 228.5M467.0 228.5L465.7 227.7M465.7 227.7L464.2 227.2M478.0 229.0L475.6 230.5M475.6 230.5L473.5 232.5M473.5 232.5L472.4 233.0M472.4 233.0L471.4 233.5M473.5 232.5L471.9 234.9M471.9 234.9L472.1 236.0M472.1 236.0L472.5 237.1" stroke="#79a650" stroke-width="0.5" opacity="0.35"/>
<path d="M526.4 236.2L527.8 237.2M531.1 233.8L533.8 233.3M531.1 233.8L532.9 232.1M533.1 238.8L534.5 240.8M529.9 243.1L530.2 245.4M475.2 228.8L473.9 227.2M467.0 228.5L465.7 227.9" stroke="#9bc974" stroke-width="0.7" opacity="0.35"/>
</g>
</g>
</svg>
</body></html>
